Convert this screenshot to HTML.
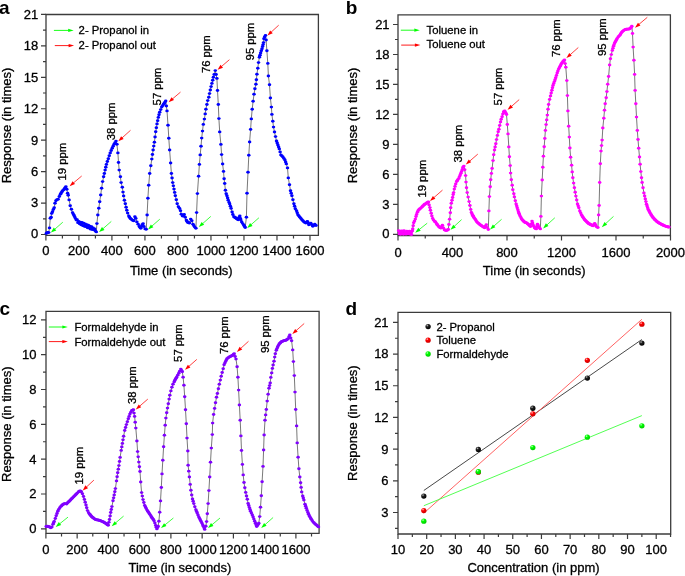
<!DOCTYPE html>
<html><head><meta charset="utf-8"><style>
html,body{margin:0;padding:0;background:#fff;}
svg{display:block;will-change:transform;font-family:"Liberation Sans",sans-serif;}
text{stroke:#000;stroke-width:0.3px;}
.nb text{stroke:none;}
</style></head><body>
<svg width="685" height="576" viewBox="0 0 685 576">
<defs>
<radialGradient id="gk" cx="0.35" cy="0.3" r="0.7"><stop offset="0" stop-color="#bbb"/><stop offset="0.35" stop-color="#222"/><stop offset="1" stop-color="#000"/></radialGradient>
<radialGradient id="gr" cx="0.35" cy="0.3" r="0.7"><stop offset="0" stop-color="#fcc"/><stop offset="0.35" stop-color="#f00"/><stop offset="1" stop-color="#c00"/></radialGradient>
<radialGradient id="ggr" cx="0.35" cy="0.3" r="0.7"><stop offset="0" stop-color="#cfc"/><stop offset="0.35" stop-color="#0f0"/><stop offset="1" stop-color="#0c0"/></radialGradient>
</defs>
<rect width="685" height="576" fill="#fff"/>
<g font-size="13">
<path d="M46,14.5H318.4V235.4H46Z" fill="none" stroke="#3c3c3c" stroke-width="1.3"/>
<path d="M45.9,235.4v5M78.91,235.4v5M111.92,235.4v5M144.94,235.4v5M177.95,235.4v5M210.96,235.4v5M243.97,235.4v5M276.98,235.4v5M310,235.4v5M62.41,235.4v3M95.42,235.4v3M128.43,235.4v3M161.44,235.4v3M194.45,235.4v3M227.47,235.4v3M260.48,235.4v3M293.49,235.4v3M46,234.5h-5M46,203.06h-5M46,171.62h-5M46,140.18h-5M46,108.74h-5M46,77.3h-5M46,45.86h-5M46,14.42h-5M46,218.78h-3M46,187.34h-3M46,155.9h-3M46,124.46h-3M46,93.02h-3M46,61.58h-3M46,30.14h-3" fill="none" stroke="#3c3c3c" stroke-width="1.2"/>
<text x="45.9" y="255" text-anchor="middle">0</text>
<text x="78.91" y="255" text-anchor="middle">200</text>
<text x="111.92" y="255" text-anchor="middle">400</text>
<text x="144.94" y="255" text-anchor="middle">600</text>
<text x="177.95" y="255" text-anchor="middle">800</text>
<text x="210.96" y="255" text-anchor="middle">1000</text>
<text x="243.97" y="255" text-anchor="middle">1200</text>
<text x="276.98" y="255" text-anchor="middle">1400</text>
<text x="310" y="255" text-anchor="middle">1600</text>
<text x="38.3" y="237.7" text-anchor="end">0</text>
<text x="38.3" y="207.46" text-anchor="end">3</text>
<text x="38.3" y="176.02" text-anchor="end">6</text>
<text x="38.3" y="144.58" text-anchor="end">9</text>
<text x="38.3" y="113.14" text-anchor="end">12</text>
<text x="38.3" y="81.7" text-anchor="end">15</text>
<text x="38.3" y="50.26" text-anchor="end">18</text>
<text x="38.3" y="18.82" text-anchor="end">21</text>
<path d="M398,14.8H670.4V235.5H398Z" fill="none" stroke="#3c3c3c" stroke-width="1.3"/>
<path d="M398,235.5v5M452.5,235.5v5M507,235.5v5M561.5,235.5v5M616,235.5v5M670.5,235.5v5M425.25,235.5v3M479.75,235.5v3M534.25,235.5v3M588.75,235.5v3M643.25,235.5v3M398,234.3h-5M398,204.33h-5M398,174.36h-5M398,144.39h-5M398,114.42h-5M398,84.45h-5M398,54.48h-5M398,24.51h-5M398,219.31h-3M398,189.35h-3M398,159.38h-3M398,129.41h-3M398,99.44h-3M398,69.47h-3M398,39.5h-3" fill="none" stroke="#3c3c3c" stroke-width="1.2"/>
<text x="398" y="256.8" text-anchor="middle">0</text>
<text x="452.5" y="256.8" text-anchor="middle">400</text>
<text x="507" y="256.8" text-anchor="middle">800</text>
<text x="561.5" y="256.8" text-anchor="middle">1200</text>
<text x="616" y="256.8" text-anchor="middle">1600</text>
<text x="670.5" y="256.8" text-anchor="middle">2000</text>
<text x="389.6" y="237.6" text-anchor="end">0</text>
<text x="389.6" y="208.73" text-anchor="end">3</text>
<text x="389.6" y="178.76" text-anchor="end">6</text>
<text x="389.6" y="148.79" text-anchor="end">9</text>
<text x="389.6" y="118.82" text-anchor="end">12</text>
<text x="389.6" y="88.85" text-anchor="end">15</text>
<text x="389.6" y="58.88" text-anchor="end">18</text>
<text x="389.6" y="28.91" text-anchor="end">21</text>
<path d="M46,311.4H319.1V533.4H46Z" fill="none" stroke="#3c3c3c" stroke-width="1.3"/>
<path d="M45.9,533.4v5M77.15,533.4v5M108.4,533.4v5M139.65,533.4v5M170.9,533.4v5M202.15,533.4v5M233.4,533.4v5M264.65,533.4v5M295.9,533.4v5M61.52,533.4v3M92.78,533.4v3M124.03,533.4v3M155.28,533.4v3M186.53,533.4v3M217.78,533.4v3M249.03,533.4v3M280.27,533.4v3M311.52,533.4v3M46,528.8h-5M46,493.98h-5M46,459.16h-5M46,424.34h-5M46,389.52h-5M46,354.7h-5M46,319.88h-5M46,511.39h-3M46,476.57h-3M46,441.75h-3M46,406.93h-3M46,372.11h-3M46,337.29h-3" fill="none" stroke="#3c3c3c" stroke-width="1.2"/>
<text x="45.9" y="554.3" text-anchor="middle">0</text>
<text x="77.15" y="554.3" text-anchor="middle">200</text>
<text x="108.4" y="554.3" text-anchor="middle">400</text>
<text x="139.65" y="554.3" text-anchor="middle">600</text>
<text x="170.9" y="554.3" text-anchor="middle">800</text>
<text x="202.15" y="554.3" text-anchor="middle">1000</text>
<text x="233.4" y="554.3" text-anchor="middle">1200</text>
<text x="264.65" y="554.3" text-anchor="middle">1400</text>
<text x="295.9" y="554.3" text-anchor="middle">1600</text>
<text x="36.4" y="532.7" text-anchor="end">0</text>
<text x="36.4" y="498.38" text-anchor="end">2</text>
<text x="36.4" y="463.56" text-anchor="end">4</text>
<text x="36.4" y="428.74" text-anchor="end">6</text>
<text x="36.4" y="393.92" text-anchor="end">8</text>
<text x="36.4" y="359.1" text-anchor="end">10</text>
<text x="36.4" y="324.28" text-anchor="end">12</text>
<path d="M398,312.3H670.7V534H398Z" fill="none" stroke="#3c3c3c" stroke-width="1.3"/>
<path d="M398,534v5M426.69,534v5M455.38,534v5M484.07,534v5M512.76,534v5M541.45,534v5M570.14,534v5M598.83,534v5M627.52,534v5M656.21,534v5M412.35,534v3M441.04,534v3M469.73,534v3M498.42,534v3M527.11,534v3M555.8,534v3M584.49,534v3M613.17,534v3M641.87,534v3M670.56,534v3M398,512.48h-5M398,480.8h-5M398,449.12h-5M398,417.44h-5M398,385.76h-5M398,354.08h-5M398,322.4h-5M398,528.32h-3M398,496.64h-3M398,464.96h-3M398,433.28h-3M398,401.6h-3M398,369.92h-3M398,338.24h-3" fill="none" stroke="#3c3c3c" stroke-width="1.2"/>
<text x="398" y="554.3" text-anchor="middle">10</text>
<text x="426.69" y="554.3" text-anchor="middle">20</text>
<text x="455.38" y="554.3" text-anchor="middle">30</text>
<text x="484.07" y="554.3" text-anchor="middle">40</text>
<text x="512.76" y="554.3" text-anchor="middle">50</text>
<text x="541.45" y="554.3" text-anchor="middle">60</text>
<text x="570.14" y="554.3" text-anchor="middle">70</text>
<text x="598.83" y="554.3" text-anchor="middle">80</text>
<text x="627.52" y="554.3" text-anchor="middle">90</text>
<text x="656.21" y="554.3" text-anchor="middle">100</text>
<text x="388.6" y="516.88" text-anchor="end">3</text>
<text x="388.6" y="485.2" text-anchor="end">6</text>
<text x="388.6" y="453.52" text-anchor="end">9</text>
<text x="388.6" y="421.84" text-anchor="end">12</text>
<text x="388.6" y="390.16" text-anchor="end">15</text>
<text x="388.6" y="358.48" text-anchor="end">18</text>
<text x="388.6" y="326.8" text-anchor="end">21</text>
<text x="181.3" y="274.7" text-anchor="middle">Time (in seconds)</text>
<text x="534.2" y="274.6" text-anchor="middle">Time (in seconds)</text>
<text x="179.9" y="572.3" text-anchor="middle">Time (in seconds)</text>
<text x="533.5" y="572.2" text-anchor="middle">Concentration (in ppm)</text>
<text transform="translate(11,183.3) rotate(-90)">Response (in times)</text>
<text transform="translate(357.2,183.3) rotate(-90)">Response (in times)</text>
<text transform="translate(11,482) rotate(-90)">Response (in times)</text>
<text transform="translate(357.2,480.9) rotate(-90)">Response (in times)</text>
</g>
<path d="M46.3,233.4 47.1,232.6 47.9,232.4 48.7,232.6 49.5,227.9 50.3,218.2 51.1,217.2 51.7,213.4 52.5,211.7 53.3,209.5 54.2,207.8 55,203.2 55.9,200.8 57,199.6 58.1,199.3 59.3,196.5 60.4,194.2 61.13,193.07 61.87,191.93 62.6,190.8 63.8,189.7 64.5,188.7 65.2,187.7 65.9,186.7 66.8,189.3 67.6,193.2 68.2,195.2 69.1,199.9 70.2,205.8 71.4,209.3 72.6,212.8 73.5,214.5 74.15,215.8 74.8,217.1 75.55,218.6 76.3,220.1 77.1,219.63 77.9,222.66 78.7,221.43 79.5,223.83 80.3,222.16 81.1,224.79 81.9,222.5 82.7,225.6 83.5,223.17 84.3,226.22 85.1,223.87 85.9,226.63 86.7,224.8 87.5,227.82 88.3,225.16 89.1,227.94 89.9,226.16 90.7,229.17 91.5,226.82 92.3,229.43 93.1,227.84 93.9,229.85 94.7,228.9 95.4,231 96.3,231.9 96.9,223.6 97.8,215 98.8,208.3 99.7,201.7 100.7,195 101.6,188.3 102.6,181.6 103.6,176.8 104.35,173.45 105.1,170.1 105.75,167.25 106.4,164.4 107.35,161.55 108.3,158.7 109.25,155.8 110.2,152.9 111.2,150.55 112.2,148.2 113.15,146.25 114.1,144.3 115.05,142.7 116,141.1 116.9,144.3 117.9,152.9 118.5,162.5 119.2,170.1 120.4,176.8 121.1,182.6 122.3,187.3 123,192.1 123.6,195.9 124.4,200.3 125.3,203.8 126.1,207.3 126.8,210.2 127.6,213.1 128.8,216 129.55,217.2 130.3,218.4 131.3,219.25 132.3,220.1 133.05,220.4 133.8,220.7 134.9,216.8 135.8,218.4 136.9,221.9 138.1,224.2 139.3,226.5 140.05,227.4 140.8,228.3 141.5,226.55 142.2,224.8 143.1,223.8 143.9,226.5 145.1,228.9 146.2,229.2 147.1,215 147.9,198.3 148.7,185.2 149.7,173.5 150.8,165.7 151.8,159.1 152.45,154.55 153.1,150 153.75,146.1 154.4,142.2 155.05,136.95 155.7,131.7 156.35,127.8 157,123.9 157.65,120.65 158.3,117.4 159,114.8 159.7,112.2 160.7,109.6 161.7,107 162.65,105.65 163.6,104.3 164.3,103.2 165,102.1 165.7,101 166.35,105.95 167,110.9 168,125.2 168.8,138.3 169.6,150 170.6,163 171.4,173.5 172.05,178.05 172.7,182.6 173.35,185.85 174,189.1 174.65,192.4 175.3,195.7 176.3,199.7 177.2,203.8 178.4,206.7 179.6,208.4 180.5,210.8 181.3,214.3 182.5,216 183.4,215.6 184.2,214.5 185.2,217.2 186.3,220.1 187,221.25 187.7,222.4 188.6,222.7 189.5,223 190.7,219.1 191.8,220.7 193,224.2 193.85,225.65 194.7,227.1 195.9,228.3 196.6,212.6 197.4,193.6 198.6,176.3 199.4,164.4 200.2,154.9 201,146.3 201.7,138.1 202.5,131.1 203.3,124.4 204.4,119.1 205.2,113.9 205.9,109.2 206.9,104.5 207.7,100.6 208.8,97.2 209.5,93.6 210.3,90 211.1,86.6 211.9,83.4 212.7,80.3 213.4,77.2 214.2,74.4 215.3,70.6 216.1,74.5 216.9,78.4 217.5,90.5 218.3,104.5 218.9,118.6 219.7,131.9 220.9,144.4 221.6,154.6 222.6,164 223.5,171.4 224.1,178.8 224.7,183.5 225.4,190.2 226.2,193.7 226.9,195.8 227.6,198 228.2,200.2 229.1,202.4 229.7,204.1 230.4,206.3 231.1,208.4 232.1,211.9 232.8,214.5 233.9,216.7 234.65,217.25 235.4,217.8 236.15,218.3 236.9,218.8 237.55,219.25 238.2,219.7 239.1,217.5 239.8,215.9 240.4,218.4 240.8,220.1 241.7,221.9 242.7,223.6 243.9,225.3 244.55,226.4 245.2,227.5 246.4,217.2 247,193.2 248,172.3 248.8,155.3 249.6,142 250.6,129.4 251.3,118.9 252.2,109.3 253.1,101.2 254,94.3 254.9,88.8 255.9,84.3 256.4,79.7 256.9,74.3 257.8,68.2 258.5,62.6 259.4,57.3 260,55.2 260.6,53 261.3,50.8 262,48.7 262.6,46.5 263.1,44.6 263.5,42.6 263.9,38.7 264.6,37 265.5,35.4 266.1,40 266.9,50.8 267.8,63.4 268.4,76 269.5,84.8 270.4,98 271.4,107.1 271.9,114.4 272.8,121.3 273.5,127.1 274.5,132 275.5,136.6 276.5,141 277.2,143 277.9,145 278.6,146.95 279.3,148.9 280.1,151.9 280.9,154.9 281.9,155.9 282.9,156.9 283.9,158.4 284.9,159.9 285.6,161.9 286.3,163.9 287.5,167.9 288.3,177.9 289.5,184.8 290.5,190.8 291.2,193.3 291.9,195.8 292.9,199.8 293.9,203.8 294.6,206.3 295.3,208.8 296.5,210.8 297.2,212.8 297.9,214.8 298.9,216 299.9,217.2 300.9,218.5 301.9,219.8 302.85,220.75 303.8,221.7 304.8,222.4 305.8,223.1 306.6,222.25 307.4,221.4 308.1,223.05 308.8,224.7 309.8,223.95 310.8,223.2 311.8,224.7 312.8,226.2 313.8,225.2 314.8,224.2 316,225.5" fill="none" stroke="#555" stroke-width="0.8"/>
<g fill="#0000ff"><ellipse cx="46.3" cy="233.4" rx="1.75" ry="1.45"/><ellipse cx="47.1" cy="232.6" rx="1.75" ry="1.45"/><ellipse cx="47.9" cy="232.4" rx="1.75" ry="1.45"/><ellipse cx="48.7" cy="232.6" rx="1.75" ry="1.45"/><ellipse cx="49.5" cy="227.9" rx="1.75" ry="1.45"/><ellipse cx="50.3" cy="218.2" rx="1.75" ry="1.45"/><ellipse cx="51.1" cy="217.2" rx="1.75" ry="1.45"/><ellipse cx="51.7" cy="213.4" rx="1.75" ry="1.45"/><ellipse cx="52.5" cy="211.7" rx="1.75" ry="1.45"/><ellipse cx="53.3" cy="209.5" rx="1.75" ry="1.45"/><ellipse cx="54.2" cy="207.8" rx="1.75" ry="1.45"/><ellipse cx="55" cy="203.2" rx="1.75" ry="1.45"/><ellipse cx="55.9" cy="200.8" rx="1.75" ry="1.45"/><ellipse cx="57" cy="199.6" rx="1.75" ry="1.45"/><ellipse cx="58.1" cy="199.3" rx="1.75" ry="1.45"/><ellipse cx="59.3" cy="196.5" rx="1.75" ry="1.45"/><ellipse cx="60.4" cy="194.2" rx="1.75" ry="1.45"/><ellipse cx="61.13" cy="193.07" rx="1.75" ry="1.45"/><ellipse cx="61.87" cy="191.93" rx="1.75" ry="1.45"/><ellipse cx="62.6" cy="190.8" rx="1.75" ry="1.45"/><ellipse cx="63.8" cy="189.7" rx="1.75" ry="1.45"/><ellipse cx="64.5" cy="188.7" rx="1.75" ry="1.45"/><ellipse cx="65.2" cy="187.7" rx="1.75" ry="1.45"/><ellipse cx="65.9" cy="186.7" rx="1.75" ry="1.45"/><ellipse cx="66.8" cy="189.3" rx="1.75" ry="1.45"/><ellipse cx="67.6" cy="193.2" rx="1.75" ry="1.45"/><ellipse cx="68.2" cy="195.2" rx="1.75" ry="1.45"/><ellipse cx="69.1" cy="199.9" rx="1.75" ry="1.45"/><ellipse cx="70.2" cy="205.8" rx="1.75" ry="1.45"/><ellipse cx="71.4" cy="209.3" rx="1.75" ry="1.45"/><ellipse cx="72.6" cy="212.8" rx="1.75" ry="1.45"/><ellipse cx="73.5" cy="214.5" rx="1.75" ry="1.45"/><ellipse cx="74.15" cy="215.8" rx="1.75" ry="1.45"/><ellipse cx="74.8" cy="217.1" rx="1.75" ry="1.45"/><ellipse cx="75.55" cy="218.6" rx="1.75" ry="1.45"/><ellipse cx="76.3" cy="220.1" rx="1.75" ry="1.45"/><ellipse cx="77.1" cy="219.63" rx="1.75" ry="1.45"/><ellipse cx="77.9" cy="222.66" rx="1.75" ry="1.45"/><ellipse cx="78.7" cy="221.43" rx="1.75" ry="1.45"/><ellipse cx="79.5" cy="223.83" rx="1.75" ry="1.45"/><ellipse cx="80.3" cy="222.16" rx="1.75" ry="1.45"/><ellipse cx="81.1" cy="224.79" rx="1.75" ry="1.45"/><ellipse cx="81.9" cy="222.5" rx="1.75" ry="1.45"/><ellipse cx="82.7" cy="225.6" rx="1.75" ry="1.45"/><ellipse cx="83.5" cy="223.17" rx="1.75" ry="1.45"/><ellipse cx="84.3" cy="226.22" rx="1.75" ry="1.45"/><ellipse cx="85.1" cy="223.87" rx="1.75" ry="1.45"/><ellipse cx="85.9" cy="226.63" rx="1.75" ry="1.45"/><ellipse cx="86.7" cy="224.8" rx="1.75" ry="1.45"/><ellipse cx="87.5" cy="227.82" rx="1.75" ry="1.45"/><ellipse cx="88.3" cy="225.16" rx="1.75" ry="1.45"/><ellipse cx="89.1" cy="227.94" rx="1.75" ry="1.45"/><ellipse cx="89.9" cy="226.16" rx="1.75" ry="1.45"/><ellipse cx="90.7" cy="229.17" rx="1.75" ry="1.45"/><ellipse cx="91.5" cy="226.82" rx="1.75" ry="1.45"/><ellipse cx="92.3" cy="229.43" rx="1.75" ry="1.45"/><ellipse cx="93.1" cy="227.84" rx="1.75" ry="1.45"/><ellipse cx="93.9" cy="229.85" rx="1.75" ry="1.45"/><ellipse cx="94.7" cy="228.9" rx="1.75" ry="1.45"/><ellipse cx="95.4" cy="231" rx="1.75" ry="1.45"/><ellipse cx="96.3" cy="231.9" rx="1.75" ry="1.45"/><ellipse cx="96.9" cy="223.6" rx="1.75" ry="1.45"/><ellipse cx="97.8" cy="215" rx="1.75" ry="1.45"/><ellipse cx="98.8" cy="208.3" rx="1.75" ry="1.45"/><ellipse cx="99.7" cy="201.7" rx="1.75" ry="1.45"/><ellipse cx="100.7" cy="195" rx="1.75" ry="1.45"/><ellipse cx="101.6" cy="188.3" rx="1.75" ry="1.45"/><ellipse cx="102.6" cy="181.6" rx="1.75" ry="1.45"/><ellipse cx="103.6" cy="176.8" rx="1.75" ry="1.45"/><ellipse cx="104.35" cy="173.45" rx="1.75" ry="1.45"/><ellipse cx="105.1" cy="170.1" rx="1.75" ry="1.45"/><ellipse cx="105.75" cy="167.25" rx="1.75" ry="1.45"/><ellipse cx="106.4" cy="164.4" rx="1.75" ry="1.45"/><ellipse cx="107.35" cy="161.55" rx="1.75" ry="1.45"/><ellipse cx="108.3" cy="158.7" rx="1.75" ry="1.45"/><ellipse cx="109.25" cy="155.8" rx="1.75" ry="1.45"/><ellipse cx="110.2" cy="152.9" rx="1.75" ry="1.45"/><ellipse cx="111.2" cy="150.55" rx="1.75" ry="1.45"/><ellipse cx="112.2" cy="148.2" rx="1.75" ry="1.45"/><ellipse cx="113.15" cy="146.25" rx="1.75" ry="1.45"/><ellipse cx="114.1" cy="144.3" rx="1.75" ry="1.45"/><ellipse cx="115.05" cy="142.7" rx="1.75" ry="1.45"/><ellipse cx="116" cy="141.1" rx="1.75" ry="1.45"/><ellipse cx="116.9" cy="144.3" rx="1.75" ry="1.45"/><ellipse cx="117.9" cy="152.9" rx="1.75" ry="1.45"/><ellipse cx="118.5" cy="162.5" rx="1.75" ry="1.45"/><ellipse cx="119.2" cy="170.1" rx="1.75" ry="1.45"/><ellipse cx="120.4" cy="176.8" rx="1.75" ry="1.45"/><ellipse cx="121.1" cy="182.6" rx="1.75" ry="1.45"/><ellipse cx="122.3" cy="187.3" rx="1.75" ry="1.45"/><ellipse cx="123" cy="192.1" rx="1.75" ry="1.45"/><ellipse cx="123.6" cy="195.9" rx="1.75" ry="1.45"/><ellipse cx="124.4" cy="200.3" rx="1.75" ry="1.45"/><ellipse cx="125.3" cy="203.8" rx="1.75" ry="1.45"/><ellipse cx="126.1" cy="207.3" rx="1.75" ry="1.45"/><ellipse cx="126.8" cy="210.2" rx="1.75" ry="1.45"/><ellipse cx="127.6" cy="213.1" rx="1.75" ry="1.45"/><ellipse cx="128.8" cy="216" rx="1.75" ry="1.45"/><ellipse cx="129.55" cy="217.2" rx="1.75" ry="1.45"/><ellipse cx="130.3" cy="218.4" rx="1.75" ry="1.45"/><ellipse cx="131.3" cy="219.25" rx="1.75" ry="1.45"/><ellipse cx="132.3" cy="220.1" rx="1.75" ry="1.45"/><ellipse cx="133.05" cy="220.4" rx="1.75" ry="1.45"/><ellipse cx="133.8" cy="220.7" rx="1.75" ry="1.45"/><ellipse cx="134.9" cy="216.8" rx="1.75" ry="1.45"/><ellipse cx="135.8" cy="218.4" rx="1.75" ry="1.45"/><ellipse cx="136.9" cy="221.9" rx="1.75" ry="1.45"/><ellipse cx="138.1" cy="224.2" rx="1.75" ry="1.45"/><ellipse cx="139.3" cy="226.5" rx="1.75" ry="1.45"/><ellipse cx="140.05" cy="227.4" rx="1.75" ry="1.45"/><ellipse cx="140.8" cy="228.3" rx="1.75" ry="1.45"/><ellipse cx="141.5" cy="226.55" rx="1.75" ry="1.45"/><ellipse cx="142.2" cy="224.8" rx="1.75" ry="1.45"/><ellipse cx="143.1" cy="223.8" rx="1.75" ry="1.45"/><ellipse cx="143.9" cy="226.5" rx="1.75" ry="1.45"/><ellipse cx="145.1" cy="228.9" rx="1.75" ry="1.45"/><ellipse cx="146.2" cy="229.2" rx="1.75" ry="1.45"/><ellipse cx="147.1" cy="215" rx="1.75" ry="1.45"/><ellipse cx="147.9" cy="198.3" rx="1.75" ry="1.45"/><ellipse cx="148.7" cy="185.2" rx="1.75" ry="1.45"/><ellipse cx="149.7" cy="173.5" rx="1.75" ry="1.45"/><ellipse cx="150.8" cy="165.7" rx="1.75" ry="1.45"/><ellipse cx="151.8" cy="159.1" rx="1.75" ry="1.45"/><ellipse cx="152.45" cy="154.55" rx="1.75" ry="1.45"/><ellipse cx="153.1" cy="150" rx="1.75" ry="1.45"/><ellipse cx="153.75" cy="146.1" rx="1.75" ry="1.45"/><ellipse cx="154.4" cy="142.2" rx="1.75" ry="1.45"/><ellipse cx="155.05" cy="136.95" rx="1.75" ry="1.45"/><ellipse cx="155.7" cy="131.7" rx="1.75" ry="1.45"/><ellipse cx="156.35" cy="127.8" rx="1.75" ry="1.45"/><ellipse cx="157" cy="123.9" rx="1.75" ry="1.45"/><ellipse cx="157.65" cy="120.65" rx="1.75" ry="1.45"/><ellipse cx="158.3" cy="117.4" rx="1.75" ry="1.45"/><ellipse cx="159" cy="114.8" rx="1.75" ry="1.45"/><ellipse cx="159.7" cy="112.2" rx="1.75" ry="1.45"/><ellipse cx="160.7" cy="109.6" rx="1.75" ry="1.45"/><ellipse cx="161.7" cy="107" rx="1.75" ry="1.45"/><ellipse cx="162.65" cy="105.65" rx="1.75" ry="1.45"/><ellipse cx="163.6" cy="104.3" rx="1.75" ry="1.45"/><ellipse cx="164.3" cy="103.2" rx="1.75" ry="1.45"/><ellipse cx="165" cy="102.1" rx="1.75" ry="1.45"/><ellipse cx="165.7" cy="101" rx="1.75" ry="1.45"/><ellipse cx="166.35" cy="105.95" rx="1.75" ry="1.45"/><ellipse cx="167" cy="110.9" rx="1.75" ry="1.45"/><ellipse cx="168" cy="125.2" rx="1.75" ry="1.45"/><ellipse cx="168.8" cy="138.3" rx="1.75" ry="1.45"/><ellipse cx="169.6" cy="150" rx="1.75" ry="1.45"/><ellipse cx="170.6" cy="163" rx="1.75" ry="1.45"/><ellipse cx="171.4" cy="173.5" rx="1.75" ry="1.45"/><ellipse cx="172.05" cy="178.05" rx="1.75" ry="1.45"/><ellipse cx="172.7" cy="182.6" rx="1.75" ry="1.45"/><ellipse cx="173.35" cy="185.85" rx="1.75" ry="1.45"/><ellipse cx="174" cy="189.1" rx="1.75" ry="1.45"/><ellipse cx="174.65" cy="192.4" rx="1.75" ry="1.45"/><ellipse cx="175.3" cy="195.7" rx="1.75" ry="1.45"/><ellipse cx="176.3" cy="199.7" rx="1.75" ry="1.45"/><ellipse cx="177.2" cy="203.8" rx="1.75" ry="1.45"/><ellipse cx="178.4" cy="206.7" rx="1.75" ry="1.45"/><ellipse cx="179.6" cy="208.4" rx="1.75" ry="1.45"/><ellipse cx="180.5" cy="210.8" rx="1.75" ry="1.45"/><ellipse cx="181.3" cy="214.3" rx="1.75" ry="1.45"/><ellipse cx="182.5" cy="216" rx="1.75" ry="1.45"/><ellipse cx="183.4" cy="215.6" rx="1.75" ry="1.45"/><ellipse cx="184.2" cy="214.5" rx="1.75" ry="1.45"/><ellipse cx="185.2" cy="217.2" rx="1.75" ry="1.45"/><ellipse cx="186.3" cy="220.1" rx="1.75" ry="1.45"/><ellipse cx="187" cy="221.25" rx="1.75" ry="1.45"/><ellipse cx="187.7" cy="222.4" rx="1.75" ry="1.45"/><ellipse cx="188.6" cy="222.7" rx="1.75" ry="1.45"/><ellipse cx="189.5" cy="223" rx="1.75" ry="1.45"/><ellipse cx="190.7" cy="219.1" rx="1.75" ry="1.45"/><ellipse cx="191.8" cy="220.7" rx="1.75" ry="1.45"/><ellipse cx="193" cy="224.2" rx="1.75" ry="1.45"/><ellipse cx="193.85" cy="225.65" rx="1.75" ry="1.45"/><ellipse cx="194.7" cy="227.1" rx="1.75" ry="1.45"/><ellipse cx="195.9" cy="228.3" rx="1.75" ry="1.45"/><ellipse cx="196.6" cy="212.6" rx="1.75" ry="1.45"/><ellipse cx="197.4" cy="193.6" rx="1.75" ry="1.45"/><ellipse cx="198.6" cy="176.3" rx="1.75" ry="1.45"/><ellipse cx="199.4" cy="164.4" rx="1.75" ry="1.45"/><ellipse cx="200.2" cy="154.9" rx="1.75" ry="1.45"/><ellipse cx="201" cy="146.3" rx="1.75" ry="1.45"/><ellipse cx="201.7" cy="138.1" rx="1.75" ry="1.45"/><ellipse cx="202.5" cy="131.1" rx="1.75" ry="1.45"/><ellipse cx="203.3" cy="124.4" rx="1.75" ry="1.45"/><ellipse cx="204.4" cy="119.1" rx="1.75" ry="1.45"/><ellipse cx="205.2" cy="113.9" rx="1.75" ry="1.45"/><ellipse cx="205.9" cy="109.2" rx="1.75" ry="1.45"/><ellipse cx="206.9" cy="104.5" rx="1.75" ry="1.45"/><ellipse cx="207.7" cy="100.6" rx="1.75" ry="1.45"/><ellipse cx="208.8" cy="97.2" rx="1.75" ry="1.45"/><ellipse cx="209.5" cy="93.6" rx="1.75" ry="1.45"/><ellipse cx="210.3" cy="90" rx="1.75" ry="1.45"/><ellipse cx="211.1" cy="86.6" rx="1.75" ry="1.45"/><ellipse cx="211.9" cy="83.4" rx="1.75" ry="1.45"/><ellipse cx="212.7" cy="80.3" rx="1.75" ry="1.45"/><ellipse cx="213.4" cy="77.2" rx="1.75" ry="1.45"/><ellipse cx="214.2" cy="74.4" rx="1.75" ry="1.45"/><ellipse cx="215.3" cy="70.6" rx="1.75" ry="1.45"/><ellipse cx="216.1" cy="74.5" rx="1.75" ry="1.45"/><ellipse cx="216.9" cy="78.4" rx="1.75" ry="1.45"/><ellipse cx="217.5" cy="90.5" rx="1.75" ry="1.45"/><ellipse cx="218.3" cy="104.5" rx="1.75" ry="1.45"/><ellipse cx="218.9" cy="118.6" rx="1.75" ry="1.45"/><ellipse cx="219.7" cy="131.9" rx="1.75" ry="1.45"/><ellipse cx="220.9" cy="144.4" rx="1.75" ry="1.45"/><ellipse cx="221.6" cy="154.6" rx="1.75" ry="1.45"/><ellipse cx="222.6" cy="164" rx="1.75" ry="1.45"/><ellipse cx="223.5" cy="171.4" rx="1.75" ry="1.45"/><ellipse cx="224.1" cy="178.8" rx="1.75" ry="1.45"/><ellipse cx="224.7" cy="183.5" rx="1.75" ry="1.45"/><ellipse cx="225.4" cy="190.2" rx="1.75" ry="1.45"/><ellipse cx="226.2" cy="193.7" rx="1.75" ry="1.45"/><ellipse cx="226.9" cy="195.8" rx="1.75" ry="1.45"/><ellipse cx="227.6" cy="198" rx="1.75" ry="1.45"/><ellipse cx="228.2" cy="200.2" rx="1.75" ry="1.45"/><ellipse cx="229.1" cy="202.4" rx="1.75" ry="1.45"/><ellipse cx="229.7" cy="204.1" rx="1.75" ry="1.45"/><ellipse cx="230.4" cy="206.3" rx="1.75" ry="1.45"/><ellipse cx="231.1" cy="208.4" rx="1.75" ry="1.45"/><ellipse cx="232.1" cy="211.9" rx="1.75" ry="1.45"/><ellipse cx="232.8" cy="214.5" rx="1.75" ry="1.45"/><ellipse cx="233.9" cy="216.7" rx="1.75" ry="1.45"/><ellipse cx="234.65" cy="217.25" rx="1.75" ry="1.45"/><ellipse cx="235.4" cy="217.8" rx="1.75" ry="1.45"/><ellipse cx="236.15" cy="218.3" rx="1.75" ry="1.45"/><ellipse cx="236.9" cy="218.8" rx="1.75" ry="1.45"/><ellipse cx="237.55" cy="219.25" rx="1.75" ry="1.45"/><ellipse cx="238.2" cy="219.7" rx="1.75" ry="1.45"/><ellipse cx="239.1" cy="217.5" rx="1.75" ry="1.45"/><ellipse cx="239.8" cy="215.9" rx="1.75" ry="1.45"/><ellipse cx="240.4" cy="218.4" rx="1.75" ry="1.45"/><ellipse cx="240.8" cy="220.1" rx="1.75" ry="1.45"/><ellipse cx="241.7" cy="221.9" rx="1.75" ry="1.45"/><ellipse cx="242.7" cy="223.6" rx="1.75" ry="1.45"/><ellipse cx="243.9" cy="225.3" rx="1.75" ry="1.45"/><ellipse cx="244.55" cy="226.4" rx="1.75" ry="1.45"/><ellipse cx="245.2" cy="227.5" rx="1.75" ry="1.45"/><ellipse cx="246.4" cy="217.2" rx="1.75" ry="1.45"/><ellipse cx="247" cy="193.2" rx="1.75" ry="1.45"/><ellipse cx="248" cy="172.3" rx="1.75" ry="1.45"/><ellipse cx="248.8" cy="155.3" rx="1.75" ry="1.45"/><ellipse cx="249.6" cy="142" rx="1.75" ry="1.45"/><ellipse cx="250.6" cy="129.4" rx="1.75" ry="1.45"/><ellipse cx="251.3" cy="118.9" rx="1.75" ry="1.45"/><ellipse cx="252.2" cy="109.3" rx="1.75" ry="1.45"/><ellipse cx="253.1" cy="101.2" rx="1.75" ry="1.45"/><ellipse cx="254" cy="94.3" rx="1.75" ry="1.45"/><ellipse cx="254.9" cy="88.8" rx="1.75" ry="1.45"/><ellipse cx="255.9" cy="84.3" rx="1.75" ry="1.45"/><ellipse cx="256.4" cy="79.7" rx="1.75" ry="1.45"/><ellipse cx="256.9" cy="74.3" rx="1.75" ry="1.45"/><ellipse cx="257.8" cy="68.2" rx="1.75" ry="1.45"/><ellipse cx="258.5" cy="62.6" rx="1.75" ry="1.45"/><ellipse cx="259.4" cy="57.3" rx="1.75" ry="1.45"/><ellipse cx="260" cy="55.2" rx="1.75" ry="1.45"/><ellipse cx="260.6" cy="53" rx="1.75" ry="1.45"/><ellipse cx="261.3" cy="50.8" rx="1.75" ry="1.45"/><ellipse cx="262" cy="48.7" rx="1.75" ry="1.45"/><ellipse cx="262.6" cy="46.5" rx="1.75" ry="1.45"/><ellipse cx="263.1" cy="44.6" rx="1.75" ry="1.45"/><ellipse cx="263.5" cy="42.6" rx="1.75" ry="1.45"/><ellipse cx="263.9" cy="38.7" rx="1.75" ry="1.45"/><ellipse cx="264.6" cy="37" rx="1.75" ry="1.45"/><ellipse cx="265.5" cy="35.4" rx="1.75" ry="1.45"/><ellipse cx="266.1" cy="40" rx="1.75" ry="1.45"/><ellipse cx="266.9" cy="50.8" rx="1.75" ry="1.45"/><ellipse cx="267.8" cy="63.4" rx="1.75" ry="1.45"/><ellipse cx="268.4" cy="76" rx="1.75" ry="1.45"/><ellipse cx="269.5" cy="84.8" rx="1.75" ry="1.45"/><ellipse cx="270.4" cy="98" rx="1.75" ry="1.45"/><ellipse cx="271.4" cy="107.1" rx="1.75" ry="1.45"/><ellipse cx="271.9" cy="114.4" rx="1.75" ry="1.45"/><ellipse cx="272.8" cy="121.3" rx="1.75" ry="1.45"/><ellipse cx="273.5" cy="127.1" rx="1.75" ry="1.45"/><ellipse cx="274.5" cy="132" rx="1.75" ry="1.45"/><ellipse cx="275.5" cy="136.6" rx="1.75" ry="1.45"/><ellipse cx="276.5" cy="141" rx="1.75" ry="1.45"/><ellipse cx="277.2" cy="143" rx="1.75" ry="1.45"/><ellipse cx="277.9" cy="145" rx="1.75" ry="1.45"/><ellipse cx="278.6" cy="146.95" rx="1.75" ry="1.45"/><ellipse cx="279.3" cy="148.9" rx="1.75" ry="1.45"/><ellipse cx="280.1" cy="151.9" rx="1.75" ry="1.45"/><ellipse cx="280.9" cy="154.9" rx="1.75" ry="1.45"/><ellipse cx="281.9" cy="155.9" rx="1.75" ry="1.45"/><ellipse cx="282.9" cy="156.9" rx="1.75" ry="1.45"/><ellipse cx="283.9" cy="158.4" rx="1.75" ry="1.45"/><ellipse cx="284.9" cy="159.9" rx="1.75" ry="1.45"/><ellipse cx="285.6" cy="161.9" rx="1.75" ry="1.45"/><ellipse cx="286.3" cy="163.9" rx="1.75" ry="1.45"/><ellipse cx="287.5" cy="167.9" rx="1.75" ry="1.45"/><ellipse cx="288.3" cy="177.9" rx="1.75" ry="1.45"/><ellipse cx="289.5" cy="184.8" rx="1.75" ry="1.45"/><ellipse cx="290.5" cy="190.8" rx="1.75" ry="1.45"/><ellipse cx="291.2" cy="193.3" rx="1.75" ry="1.45"/><ellipse cx="291.9" cy="195.8" rx="1.75" ry="1.45"/><ellipse cx="292.9" cy="199.8" rx="1.75" ry="1.45"/><ellipse cx="293.9" cy="203.8" rx="1.75" ry="1.45"/><ellipse cx="294.6" cy="206.3" rx="1.75" ry="1.45"/><ellipse cx="295.3" cy="208.8" rx="1.75" ry="1.45"/><ellipse cx="296.5" cy="210.8" rx="1.75" ry="1.45"/><ellipse cx="297.2" cy="212.8" rx="1.75" ry="1.45"/><ellipse cx="297.9" cy="214.8" rx="1.75" ry="1.45"/><ellipse cx="298.9" cy="216" rx="1.75" ry="1.45"/><ellipse cx="299.9" cy="217.2" rx="1.75" ry="1.45"/><ellipse cx="300.9" cy="218.5" rx="1.75" ry="1.45"/><ellipse cx="301.9" cy="219.8" rx="1.75" ry="1.45"/><ellipse cx="302.85" cy="220.75" rx="1.75" ry="1.45"/><ellipse cx="303.8" cy="221.7" rx="1.75" ry="1.45"/><ellipse cx="304.8" cy="222.4" rx="1.75" ry="1.45"/><ellipse cx="305.8" cy="223.1" rx="1.75" ry="1.45"/><ellipse cx="306.6" cy="222.25" rx="1.75" ry="1.45"/><ellipse cx="307.4" cy="221.4" rx="1.75" ry="1.45"/><ellipse cx="308.1" cy="223.05" rx="1.75" ry="1.45"/><ellipse cx="308.8" cy="224.7" rx="1.75" ry="1.45"/><ellipse cx="309.8" cy="223.95" rx="1.75" ry="1.45"/><ellipse cx="310.8" cy="223.2" rx="1.75" ry="1.45"/><ellipse cx="311.8" cy="224.7" rx="1.75" ry="1.45"/><ellipse cx="312.8" cy="226.2" rx="1.75" ry="1.45"/><ellipse cx="313.8" cy="225.2" rx="1.75" ry="1.45"/><ellipse cx="314.8" cy="224.2" rx="1.75" ry="1.45"/><ellipse cx="316" cy="225.5" rx="1.75" ry="1.45"/></g>
<path d="M398.6,230.74 399.28,233.84 399.96,232.07 400.64,234.3 401.32,230.93 402,232.77 402.68,231.31 403.36,234.34 404.04,230.76 404.72,233.53 405.4,232.7 406.08,234.17 406.76,231.14 407.44,233.18 408.12,231.94 408.8,233.65 409.48,231.13 410.16,234.17 410.84,232.22 411.52,234.44 412.4,231 412.7,229 413.2,225.8 413.7,222.7 414.5,221.1 415.3,219.1 416,216.5 416.6,214.4 417.4,212.3 418.1,210.7 418.9,209.7 419.45,209.15 420,208.6 421,207.9 422,206.9 422.55,206.35 423.1,205.8 424.1,204.8 424.65,204.4 425.2,204 426.2,203.4 426.75,203.05 427.3,202.7 427.9,202.3 428.5,201.9 429.1,205 429.9,207.6 430.4,210.2 431.2,213.3 431.9,215.9 432.7,218.5 433.5,220.1 434.5,221.1 435.05,221.65 435.6,222.2 436.6,223.8 437.15,224.55 437.7,225.3 438.7,226.4 439.25,226.9 439.8,227.4 440.4,227.75 441,228.1 441.7,226.7 442.4,225.3 443.4,227.9 444.4,229.8 445.2,230.15 446,230.5 446.8,230.25 447.6,230 448.3,229.5 448.9,224.5 449.6,219.3 450.3,212.7 450.7,207.8 451.3,203.3 452,200.2 452.6,197.5 453.2,194.5 453.6,192.6 454.3,189.1 455,186.4 455.7,183.9 456.7,181.5 457.25,180.65 457.8,179.8 458.8,178.4 459.5,176.6 460.2,174.9 460.9,173.2 461.6,171.4 462.3,169.4 463,167.3 463.9,166.1 464.7,169.7 465.6,175.6 466,182.1 466.5,187.7 467.2,192.6 468.1,197.1 469.1,201.6 469.9,205.5 470.7,209.4 471.4,212.5 472.05,213.9 472.7,215.3 473.25,216.25 473.8,217.2 474.55,218.35 475.3,219.5 476.1,220.7 476.9,221.9 477.7,222.65 478.5,223.4 479.25,224.05 480,224.7 480.8,225.25 481.6,225.8 482.4,226.35 483.2,226.9 483.95,227.35 484.7,227.8 485.5,226.25 486.3,224.7 487.3,227.6 488.3,229.5 488.9,210.9 489.4,196.6 490.2,186.7 490.7,179.7 491.4,173.4 492.1,168.4 493,160.6 493.7,154.7 494.5,150 495.1,146.9 495.8,143.8 496.5,139.6 497.4,135.4 498.2,131.8 498.9,129.2 499.7,125.5 500.5,121.9 501.2,119.3 502.1,116.7 502.8,114.1 503.6,112 504.15,111.45 504.7,110.9 505.3,112.13 505.9,113.37 506.5,114.6 507.3,124.5 508,133.9 508.8,146.9 509.4,156.7 510.2,165.6 510.6,173.1 511.3,179.7 512.2,185.2 512.8,189.8 513.8,193.8 514.4,196.9 515.3,200.8 516.1,203.9 516.65,205.85 517.2,207.8 517.8,209.75 518.4,211.7 518.95,213.25 519.5,214.8 520.3,216.4 521.1,218 521.9,219.15 522.7,220.3 523.37,220.93 524.03,221.57 524.7,222.2 525.43,222.5 526.17,222.8 526.9,223.1 527.57,223.73 528.23,224.37 528.9,225 529.7,225.8 530.5,226.6 531.25,223.85 532,221.1 532.55,223.05 533.1,225 533.9,226.55 534.7,228.1 535.5,228.5 536.3,228.9 536.9,226.55 537.5,224.2 538.15,225.75 538.8,227.3 539.55,228.1 540.3,228.9 540.9,216.4 541.4,196.1 542.2,180 542.8,167.2 543.4,156.3 544.2,146.7 544.8,138.4 545.4,130.4 546.1,124.6 546.7,119.9 547.3,115.1 548,109.3 548.6,104.5 549.6,99.4 550.5,95.9 551.2,93.05 551.9,90.2 552.45,87.8 553,85.4 553.7,83.5 554.4,81.6 555.05,79.7 555.7,77.8 556.45,75.4 557.2,73 557.9,71.05 558.6,69.1 559.35,67.7 560.1,66.3 560.75,65.05 561.4,63.8 562.2,62.65 563,61.5 563.75,60.75 564.5,60 565.15,63.6 565.8,67.2 566.8,80.6 567.4,95.6 567.9,110.9 568.7,126.2 569.3,137.1 569.9,148 570.6,157.2 571.6,165.3 572.2,171.9 572.8,177.8 573.6,183.1 574.4,187.8 575.2,192.2 575.9,196.1 576.7,200 577.5,203.9 578.15,205.85 578.8,207.8 579.8,210.9 580.6,212.85 581.4,214.8 582.2,216 583,217.2 583.75,218.35 584.5,219.5 585.2,220.2 585.9,220.9 586.6,221.6 587.2,222.2 587.8,222.8 588.4,223.4 589,223.72 589.6,224.05 590.2,224.38 590.8,224.7 591.57,225.07 592.33,225.43 593.1,225.8 593.9,224.6 594.7,223.4 595.5,225 596.3,226.6 597.1,227.1 597.9,227.6 598.6,215 599.1,205.5 599.7,182.5 600.3,163.8 601,151.1 601.55,145.6 602.1,140.1 602.8,128 603.8,118.3 604.5,110.3 605.2,103.7 606.2,97.7 606.9,91.6 607.7,84.3 608.6,76.5 609.6,65 610.4,58.8 611.3,54.6 612.3,50.4 612.9,48.35 613.5,46.3 614.05,44.7 614.6,43.1 615.2,42.05 615.8,41 616.5,39.7 617.2,38.4 618.2,36.9 619,36.1 619.8,35.3 620.6,34 621.4,32.7 622.15,31.9 622.9,31.1 623.6,30.6 624.3,30.1 625,29.6 625.7,29.43 626.4,29.27 627.1,29.1 627.8,29.1 628.5,29.1 629.2,29.1 629.95,28.55 630.7,28 631.25,27.15 631.8,26.3 632.5,33.5 633.1,47.1 633.9,60.3 634.6,74.4 635.1,90.4 635.8,103.7 636.5,117.1 637.3,130.4 638,139.5 638.7,148.3 639.5,157 640.1,164.3 640.8,171.6 641.5,177.8 642.1,182.5 643,187.7 643.9,192.9 644.6,195.95 645.3,199 645.9,201.6 646.5,204.2 647.07,205.93 647.63,207.67 648.2,209.4 648.8,210.57 649.4,211.73 650,212.9 650.73,214.07 651.47,215.23 652.2,216.4 652.9,217.27 653.6,218.13 654.3,219 654.95,219.65 655.6,220.3 656.25,220.95 656.9,221.6 657.55,222.03 658.2,222.45 658.85,222.88 659.5,223.3 660.15,223.65 660.8,224 661.45,224.35 662.1,224.7 662.75,225 663.4,225.3 664.05,225.6 664.7,225.9 665.35,226.12 666,226.35 666.65,226.58 667.3,226.8 667.87,226.9 668.43,227 669,227.1" fill="none" stroke="#555" stroke-width="0.8"/>
<g fill="#ff00ff"><ellipse cx="398.6" cy="230.74" rx="1.75" ry="1.45"/><ellipse cx="399.28" cy="233.84" rx="1.75" ry="1.45"/><ellipse cx="399.96" cy="232.07" rx="1.75" ry="1.45"/><ellipse cx="400.64" cy="234.3" rx="1.75" ry="1.45"/><ellipse cx="401.32" cy="230.93" rx="1.75" ry="1.45"/><ellipse cx="402" cy="232.77" rx="1.75" ry="1.45"/><ellipse cx="402.68" cy="231.31" rx="1.75" ry="1.45"/><ellipse cx="403.36" cy="234.34" rx="1.75" ry="1.45"/><ellipse cx="404.04" cy="230.76" rx="1.75" ry="1.45"/><ellipse cx="404.72" cy="233.53" rx="1.75" ry="1.45"/><ellipse cx="405.4" cy="232.7" rx="1.75" ry="1.45"/><ellipse cx="406.08" cy="234.17" rx="1.75" ry="1.45"/><ellipse cx="406.76" cy="231.14" rx="1.75" ry="1.45"/><ellipse cx="407.44" cy="233.18" rx="1.75" ry="1.45"/><ellipse cx="408.12" cy="231.94" rx="1.75" ry="1.45"/><ellipse cx="408.8" cy="233.65" rx="1.75" ry="1.45"/><ellipse cx="409.48" cy="231.13" rx="1.75" ry="1.45"/><ellipse cx="410.16" cy="234.17" rx="1.75" ry="1.45"/><ellipse cx="410.84" cy="232.22" rx="1.75" ry="1.45"/><ellipse cx="411.52" cy="234.44" rx="1.75" ry="1.45"/><ellipse cx="412.4" cy="231" rx="1.75" ry="1.45"/><ellipse cx="412.7" cy="229" rx="1.75" ry="1.45"/><ellipse cx="413.2" cy="225.8" rx="1.75" ry="1.45"/><ellipse cx="413.7" cy="222.7" rx="1.75" ry="1.45"/><ellipse cx="414.5" cy="221.1" rx="1.75" ry="1.45"/><ellipse cx="415.3" cy="219.1" rx="1.75" ry="1.45"/><ellipse cx="416" cy="216.5" rx="1.75" ry="1.45"/><ellipse cx="416.6" cy="214.4" rx="1.75" ry="1.45"/><ellipse cx="417.4" cy="212.3" rx="1.75" ry="1.45"/><ellipse cx="418.1" cy="210.7" rx="1.75" ry="1.45"/><ellipse cx="418.9" cy="209.7" rx="1.75" ry="1.45"/><ellipse cx="419.45" cy="209.15" rx="1.75" ry="1.45"/><ellipse cx="420" cy="208.6" rx="1.75" ry="1.45"/><ellipse cx="421" cy="207.9" rx="1.75" ry="1.45"/><ellipse cx="422" cy="206.9" rx="1.75" ry="1.45"/><ellipse cx="422.55" cy="206.35" rx="1.75" ry="1.45"/><ellipse cx="423.1" cy="205.8" rx="1.75" ry="1.45"/><ellipse cx="424.1" cy="204.8" rx="1.75" ry="1.45"/><ellipse cx="424.65" cy="204.4" rx="1.75" ry="1.45"/><ellipse cx="425.2" cy="204" rx="1.75" ry="1.45"/><ellipse cx="426.2" cy="203.4" rx="1.75" ry="1.45"/><ellipse cx="426.75" cy="203.05" rx="1.75" ry="1.45"/><ellipse cx="427.3" cy="202.7" rx="1.75" ry="1.45"/><ellipse cx="427.9" cy="202.3" rx="1.75" ry="1.45"/><ellipse cx="428.5" cy="201.9" rx="1.75" ry="1.45"/><ellipse cx="429.1" cy="205" rx="1.75" ry="1.45"/><ellipse cx="429.9" cy="207.6" rx="1.75" ry="1.45"/><ellipse cx="430.4" cy="210.2" rx="1.75" ry="1.45"/><ellipse cx="431.2" cy="213.3" rx="1.75" ry="1.45"/><ellipse cx="431.9" cy="215.9" rx="1.75" ry="1.45"/><ellipse cx="432.7" cy="218.5" rx="1.75" ry="1.45"/><ellipse cx="433.5" cy="220.1" rx="1.75" ry="1.45"/><ellipse cx="434.5" cy="221.1" rx="1.75" ry="1.45"/><ellipse cx="435.05" cy="221.65" rx="1.75" ry="1.45"/><ellipse cx="435.6" cy="222.2" rx="1.75" ry="1.45"/><ellipse cx="436.6" cy="223.8" rx="1.75" ry="1.45"/><ellipse cx="437.15" cy="224.55" rx="1.75" ry="1.45"/><ellipse cx="437.7" cy="225.3" rx="1.75" ry="1.45"/><ellipse cx="438.7" cy="226.4" rx="1.75" ry="1.45"/><ellipse cx="439.25" cy="226.9" rx="1.75" ry="1.45"/><ellipse cx="439.8" cy="227.4" rx="1.75" ry="1.45"/><ellipse cx="440.4" cy="227.75" rx="1.75" ry="1.45"/><ellipse cx="441" cy="228.1" rx="1.75" ry="1.45"/><ellipse cx="441.7" cy="226.7" rx="1.75" ry="1.45"/><ellipse cx="442.4" cy="225.3" rx="1.75" ry="1.45"/><ellipse cx="443.4" cy="227.9" rx="1.75" ry="1.45"/><ellipse cx="444.4" cy="229.8" rx="1.75" ry="1.45"/><ellipse cx="445.2" cy="230.15" rx="1.75" ry="1.45"/><ellipse cx="446" cy="230.5" rx="1.75" ry="1.45"/><ellipse cx="446.8" cy="230.25" rx="1.75" ry="1.45"/><ellipse cx="447.6" cy="230" rx="1.75" ry="1.45"/><ellipse cx="448.3" cy="229.5" rx="1.75" ry="1.45"/><ellipse cx="448.9" cy="224.5" rx="1.75" ry="1.45"/><ellipse cx="449.6" cy="219.3" rx="1.75" ry="1.45"/><ellipse cx="450.3" cy="212.7" rx="1.75" ry="1.45"/><ellipse cx="450.7" cy="207.8" rx="1.75" ry="1.45"/><ellipse cx="451.3" cy="203.3" rx="1.75" ry="1.45"/><ellipse cx="452" cy="200.2" rx="1.75" ry="1.45"/><ellipse cx="452.6" cy="197.5" rx="1.75" ry="1.45"/><ellipse cx="453.2" cy="194.5" rx="1.75" ry="1.45"/><ellipse cx="453.6" cy="192.6" rx="1.75" ry="1.45"/><ellipse cx="454.3" cy="189.1" rx="1.75" ry="1.45"/><ellipse cx="455" cy="186.4" rx="1.75" ry="1.45"/><ellipse cx="455.7" cy="183.9" rx="1.75" ry="1.45"/><ellipse cx="456.7" cy="181.5" rx="1.75" ry="1.45"/><ellipse cx="457.25" cy="180.65" rx="1.75" ry="1.45"/><ellipse cx="457.8" cy="179.8" rx="1.75" ry="1.45"/><ellipse cx="458.8" cy="178.4" rx="1.75" ry="1.45"/><ellipse cx="459.5" cy="176.6" rx="1.75" ry="1.45"/><ellipse cx="460.2" cy="174.9" rx="1.75" ry="1.45"/><ellipse cx="460.9" cy="173.2" rx="1.75" ry="1.45"/><ellipse cx="461.6" cy="171.4" rx="1.75" ry="1.45"/><ellipse cx="462.3" cy="169.4" rx="1.75" ry="1.45"/><ellipse cx="463" cy="167.3" rx="1.75" ry="1.45"/><ellipse cx="463.9" cy="166.1" rx="1.75" ry="1.45"/><ellipse cx="464.7" cy="169.7" rx="1.75" ry="1.45"/><ellipse cx="465.6" cy="175.6" rx="1.75" ry="1.45"/><ellipse cx="466" cy="182.1" rx="1.75" ry="1.45"/><ellipse cx="466.5" cy="187.7" rx="1.75" ry="1.45"/><ellipse cx="467.2" cy="192.6" rx="1.75" ry="1.45"/><ellipse cx="468.1" cy="197.1" rx="1.75" ry="1.45"/><ellipse cx="469.1" cy="201.6" rx="1.75" ry="1.45"/><ellipse cx="469.9" cy="205.5" rx="1.75" ry="1.45"/><ellipse cx="470.7" cy="209.4" rx="1.75" ry="1.45"/><ellipse cx="471.4" cy="212.5" rx="1.75" ry="1.45"/><ellipse cx="472.05" cy="213.9" rx="1.75" ry="1.45"/><ellipse cx="472.7" cy="215.3" rx="1.75" ry="1.45"/><ellipse cx="473.25" cy="216.25" rx="1.75" ry="1.45"/><ellipse cx="473.8" cy="217.2" rx="1.75" ry="1.45"/><ellipse cx="474.55" cy="218.35" rx="1.75" ry="1.45"/><ellipse cx="475.3" cy="219.5" rx="1.75" ry="1.45"/><ellipse cx="476.1" cy="220.7" rx="1.75" ry="1.45"/><ellipse cx="476.9" cy="221.9" rx="1.75" ry="1.45"/><ellipse cx="477.7" cy="222.65" rx="1.75" ry="1.45"/><ellipse cx="478.5" cy="223.4" rx="1.75" ry="1.45"/><ellipse cx="479.25" cy="224.05" rx="1.75" ry="1.45"/><ellipse cx="480" cy="224.7" rx="1.75" ry="1.45"/><ellipse cx="480.8" cy="225.25" rx="1.75" ry="1.45"/><ellipse cx="481.6" cy="225.8" rx="1.75" ry="1.45"/><ellipse cx="482.4" cy="226.35" rx="1.75" ry="1.45"/><ellipse cx="483.2" cy="226.9" rx="1.75" ry="1.45"/><ellipse cx="483.95" cy="227.35" rx="1.75" ry="1.45"/><ellipse cx="484.7" cy="227.8" rx="1.75" ry="1.45"/><ellipse cx="485.5" cy="226.25" rx="1.75" ry="1.45"/><ellipse cx="486.3" cy="224.7" rx="1.75" ry="1.45"/><ellipse cx="487.3" cy="227.6" rx="1.75" ry="1.45"/><ellipse cx="488.3" cy="229.5" rx="1.75" ry="1.45"/><ellipse cx="488.9" cy="210.9" rx="1.75" ry="1.45"/><ellipse cx="489.4" cy="196.6" rx="1.75" ry="1.45"/><ellipse cx="490.2" cy="186.7" rx="1.75" ry="1.45"/><ellipse cx="490.7" cy="179.7" rx="1.75" ry="1.45"/><ellipse cx="491.4" cy="173.4" rx="1.75" ry="1.45"/><ellipse cx="492.1" cy="168.4" rx="1.75" ry="1.45"/><ellipse cx="493" cy="160.6" rx="1.75" ry="1.45"/><ellipse cx="493.7" cy="154.7" rx="1.75" ry="1.45"/><ellipse cx="494.5" cy="150" rx="1.75" ry="1.45"/><ellipse cx="495.1" cy="146.9" rx="1.75" ry="1.45"/><ellipse cx="495.8" cy="143.8" rx="1.75" ry="1.45"/><ellipse cx="496.5" cy="139.6" rx="1.75" ry="1.45"/><ellipse cx="497.4" cy="135.4" rx="1.75" ry="1.45"/><ellipse cx="498.2" cy="131.8" rx="1.75" ry="1.45"/><ellipse cx="498.9" cy="129.2" rx="1.75" ry="1.45"/><ellipse cx="499.7" cy="125.5" rx="1.75" ry="1.45"/><ellipse cx="500.5" cy="121.9" rx="1.75" ry="1.45"/><ellipse cx="501.2" cy="119.3" rx="1.75" ry="1.45"/><ellipse cx="502.1" cy="116.7" rx="1.75" ry="1.45"/><ellipse cx="502.8" cy="114.1" rx="1.75" ry="1.45"/><ellipse cx="503.6" cy="112" rx="1.75" ry="1.45"/><ellipse cx="504.15" cy="111.45" rx="1.75" ry="1.45"/><ellipse cx="504.7" cy="110.9" rx="1.75" ry="1.45"/><ellipse cx="505.3" cy="112.13" rx="1.75" ry="1.45"/><ellipse cx="505.9" cy="113.37" rx="1.75" ry="1.45"/><ellipse cx="506.5" cy="114.6" rx="1.75" ry="1.45"/><ellipse cx="507.3" cy="124.5" rx="1.75" ry="1.45"/><ellipse cx="508" cy="133.9" rx="1.75" ry="1.45"/><ellipse cx="508.8" cy="146.9" rx="1.75" ry="1.45"/><ellipse cx="509.4" cy="156.7" rx="1.75" ry="1.45"/><ellipse cx="510.2" cy="165.6" rx="1.75" ry="1.45"/><ellipse cx="510.6" cy="173.1" rx="1.75" ry="1.45"/><ellipse cx="511.3" cy="179.7" rx="1.75" ry="1.45"/><ellipse cx="512.2" cy="185.2" rx="1.75" ry="1.45"/><ellipse cx="512.8" cy="189.8" rx="1.75" ry="1.45"/><ellipse cx="513.8" cy="193.8" rx="1.75" ry="1.45"/><ellipse cx="514.4" cy="196.9" rx="1.75" ry="1.45"/><ellipse cx="515.3" cy="200.8" rx="1.75" ry="1.45"/><ellipse cx="516.1" cy="203.9" rx="1.75" ry="1.45"/><ellipse cx="516.65" cy="205.85" rx="1.75" ry="1.45"/><ellipse cx="517.2" cy="207.8" rx="1.75" ry="1.45"/><ellipse cx="517.8" cy="209.75" rx="1.75" ry="1.45"/><ellipse cx="518.4" cy="211.7" rx="1.75" ry="1.45"/><ellipse cx="518.95" cy="213.25" rx="1.75" ry="1.45"/><ellipse cx="519.5" cy="214.8" rx="1.75" ry="1.45"/><ellipse cx="520.3" cy="216.4" rx="1.75" ry="1.45"/><ellipse cx="521.1" cy="218" rx="1.75" ry="1.45"/><ellipse cx="521.9" cy="219.15" rx="1.75" ry="1.45"/><ellipse cx="522.7" cy="220.3" rx="1.75" ry="1.45"/><ellipse cx="523.37" cy="220.93" rx="1.75" ry="1.45"/><ellipse cx="524.03" cy="221.57" rx="1.75" ry="1.45"/><ellipse cx="524.7" cy="222.2" rx="1.75" ry="1.45"/><ellipse cx="525.43" cy="222.5" rx="1.75" ry="1.45"/><ellipse cx="526.17" cy="222.8" rx="1.75" ry="1.45"/><ellipse cx="526.9" cy="223.1" rx="1.75" ry="1.45"/><ellipse cx="527.57" cy="223.73" rx="1.75" ry="1.45"/><ellipse cx="528.23" cy="224.37" rx="1.75" ry="1.45"/><ellipse cx="528.9" cy="225" rx="1.75" ry="1.45"/><ellipse cx="529.7" cy="225.8" rx="1.75" ry="1.45"/><ellipse cx="530.5" cy="226.6" rx="1.75" ry="1.45"/><ellipse cx="531.25" cy="223.85" rx="1.75" ry="1.45"/><ellipse cx="532" cy="221.1" rx="1.75" ry="1.45"/><ellipse cx="532.55" cy="223.05" rx="1.75" ry="1.45"/><ellipse cx="533.1" cy="225" rx="1.75" ry="1.45"/><ellipse cx="533.9" cy="226.55" rx="1.75" ry="1.45"/><ellipse cx="534.7" cy="228.1" rx="1.75" ry="1.45"/><ellipse cx="535.5" cy="228.5" rx="1.75" ry="1.45"/><ellipse cx="536.3" cy="228.9" rx="1.75" ry="1.45"/><ellipse cx="536.9" cy="226.55" rx="1.75" ry="1.45"/><ellipse cx="537.5" cy="224.2" rx="1.75" ry="1.45"/><ellipse cx="538.15" cy="225.75" rx="1.75" ry="1.45"/><ellipse cx="538.8" cy="227.3" rx="1.75" ry="1.45"/><ellipse cx="539.55" cy="228.1" rx="1.75" ry="1.45"/><ellipse cx="540.3" cy="228.9" rx="1.75" ry="1.45"/><ellipse cx="540.9" cy="216.4" rx="1.75" ry="1.45"/><ellipse cx="541.4" cy="196.1" rx="1.75" ry="1.45"/><ellipse cx="542.2" cy="180" rx="1.75" ry="1.45"/><ellipse cx="542.8" cy="167.2" rx="1.75" ry="1.45"/><ellipse cx="543.4" cy="156.3" rx="1.75" ry="1.45"/><ellipse cx="544.2" cy="146.7" rx="1.75" ry="1.45"/><ellipse cx="544.8" cy="138.4" rx="1.75" ry="1.45"/><ellipse cx="545.4" cy="130.4" rx="1.75" ry="1.45"/><ellipse cx="546.1" cy="124.6" rx="1.75" ry="1.45"/><ellipse cx="546.7" cy="119.9" rx="1.75" ry="1.45"/><ellipse cx="547.3" cy="115.1" rx="1.75" ry="1.45"/><ellipse cx="548" cy="109.3" rx="1.75" ry="1.45"/><ellipse cx="548.6" cy="104.5" rx="1.75" ry="1.45"/><ellipse cx="549.6" cy="99.4" rx="1.75" ry="1.45"/><ellipse cx="550.5" cy="95.9" rx="1.75" ry="1.45"/><ellipse cx="551.2" cy="93.05" rx="1.75" ry="1.45"/><ellipse cx="551.9" cy="90.2" rx="1.75" ry="1.45"/><ellipse cx="552.45" cy="87.8" rx="1.75" ry="1.45"/><ellipse cx="553" cy="85.4" rx="1.75" ry="1.45"/><ellipse cx="553.7" cy="83.5" rx="1.75" ry="1.45"/><ellipse cx="554.4" cy="81.6" rx="1.75" ry="1.45"/><ellipse cx="555.05" cy="79.7" rx="1.75" ry="1.45"/><ellipse cx="555.7" cy="77.8" rx="1.75" ry="1.45"/><ellipse cx="556.45" cy="75.4" rx="1.75" ry="1.45"/><ellipse cx="557.2" cy="73" rx="1.75" ry="1.45"/><ellipse cx="557.9" cy="71.05" rx="1.75" ry="1.45"/><ellipse cx="558.6" cy="69.1" rx="1.75" ry="1.45"/><ellipse cx="559.35" cy="67.7" rx="1.75" ry="1.45"/><ellipse cx="560.1" cy="66.3" rx="1.75" ry="1.45"/><ellipse cx="560.75" cy="65.05" rx="1.75" ry="1.45"/><ellipse cx="561.4" cy="63.8" rx="1.75" ry="1.45"/><ellipse cx="562.2" cy="62.65" rx="1.75" ry="1.45"/><ellipse cx="563" cy="61.5" rx="1.75" ry="1.45"/><ellipse cx="563.75" cy="60.75" rx="1.75" ry="1.45"/><ellipse cx="564.5" cy="60" rx="1.75" ry="1.45"/><ellipse cx="565.15" cy="63.6" rx="1.75" ry="1.45"/><ellipse cx="565.8" cy="67.2" rx="1.75" ry="1.45"/><ellipse cx="566.8" cy="80.6" rx="1.75" ry="1.45"/><ellipse cx="567.4" cy="95.6" rx="1.75" ry="1.45"/><ellipse cx="567.9" cy="110.9" rx="1.75" ry="1.45"/><ellipse cx="568.7" cy="126.2" rx="1.75" ry="1.45"/><ellipse cx="569.3" cy="137.1" rx="1.75" ry="1.45"/><ellipse cx="569.9" cy="148" rx="1.75" ry="1.45"/><ellipse cx="570.6" cy="157.2" rx="1.75" ry="1.45"/><ellipse cx="571.6" cy="165.3" rx="1.75" ry="1.45"/><ellipse cx="572.2" cy="171.9" rx="1.75" ry="1.45"/><ellipse cx="572.8" cy="177.8" rx="1.75" ry="1.45"/><ellipse cx="573.6" cy="183.1" rx="1.75" ry="1.45"/><ellipse cx="574.4" cy="187.8" rx="1.75" ry="1.45"/><ellipse cx="575.2" cy="192.2" rx="1.75" ry="1.45"/><ellipse cx="575.9" cy="196.1" rx="1.75" ry="1.45"/><ellipse cx="576.7" cy="200" rx="1.75" ry="1.45"/><ellipse cx="577.5" cy="203.9" rx="1.75" ry="1.45"/><ellipse cx="578.15" cy="205.85" rx="1.75" ry="1.45"/><ellipse cx="578.8" cy="207.8" rx="1.75" ry="1.45"/><ellipse cx="579.8" cy="210.9" rx="1.75" ry="1.45"/><ellipse cx="580.6" cy="212.85" rx="1.75" ry="1.45"/><ellipse cx="581.4" cy="214.8" rx="1.75" ry="1.45"/><ellipse cx="582.2" cy="216" rx="1.75" ry="1.45"/><ellipse cx="583" cy="217.2" rx="1.75" ry="1.45"/><ellipse cx="583.75" cy="218.35" rx="1.75" ry="1.45"/><ellipse cx="584.5" cy="219.5" rx="1.75" ry="1.45"/><ellipse cx="585.2" cy="220.2" rx="1.75" ry="1.45"/><ellipse cx="585.9" cy="220.9" rx="1.75" ry="1.45"/><ellipse cx="586.6" cy="221.6" rx="1.75" ry="1.45"/><ellipse cx="587.2" cy="222.2" rx="1.75" ry="1.45"/><ellipse cx="587.8" cy="222.8" rx="1.75" ry="1.45"/><ellipse cx="588.4" cy="223.4" rx="1.75" ry="1.45"/><ellipse cx="589" cy="223.72" rx="1.75" ry="1.45"/><ellipse cx="589.6" cy="224.05" rx="1.75" ry="1.45"/><ellipse cx="590.2" cy="224.38" rx="1.75" ry="1.45"/><ellipse cx="590.8" cy="224.7" rx="1.75" ry="1.45"/><ellipse cx="591.57" cy="225.07" rx="1.75" ry="1.45"/><ellipse cx="592.33" cy="225.43" rx="1.75" ry="1.45"/><ellipse cx="593.1" cy="225.8" rx="1.75" ry="1.45"/><ellipse cx="593.9" cy="224.6" rx="1.75" ry="1.45"/><ellipse cx="594.7" cy="223.4" rx="1.75" ry="1.45"/><ellipse cx="595.5" cy="225" rx="1.75" ry="1.45"/><ellipse cx="596.3" cy="226.6" rx="1.75" ry="1.45"/><ellipse cx="597.1" cy="227.1" rx="1.75" ry="1.45"/><ellipse cx="597.9" cy="227.6" rx="1.75" ry="1.45"/><ellipse cx="598.6" cy="215" rx="1.75" ry="1.45"/><ellipse cx="599.1" cy="205.5" rx="1.75" ry="1.45"/><ellipse cx="599.7" cy="182.5" rx="1.75" ry="1.45"/><ellipse cx="600.3" cy="163.8" rx="1.75" ry="1.45"/><ellipse cx="601" cy="151.1" rx="1.75" ry="1.45"/><ellipse cx="601.55" cy="145.6" rx="1.75" ry="1.45"/><ellipse cx="602.1" cy="140.1" rx="1.75" ry="1.45"/><ellipse cx="602.8" cy="128" rx="1.75" ry="1.45"/><ellipse cx="603.8" cy="118.3" rx="1.75" ry="1.45"/><ellipse cx="604.5" cy="110.3" rx="1.75" ry="1.45"/><ellipse cx="605.2" cy="103.7" rx="1.75" ry="1.45"/><ellipse cx="606.2" cy="97.7" rx="1.75" ry="1.45"/><ellipse cx="606.9" cy="91.6" rx="1.75" ry="1.45"/><ellipse cx="607.7" cy="84.3" rx="1.75" ry="1.45"/><ellipse cx="608.6" cy="76.5" rx="1.75" ry="1.45"/><ellipse cx="609.6" cy="65" rx="1.75" ry="1.45"/><ellipse cx="610.4" cy="58.8" rx="1.75" ry="1.45"/><ellipse cx="611.3" cy="54.6" rx="1.75" ry="1.45"/><ellipse cx="612.3" cy="50.4" rx="1.75" ry="1.45"/><ellipse cx="612.9" cy="48.35" rx="1.75" ry="1.45"/><ellipse cx="613.5" cy="46.3" rx="1.75" ry="1.45"/><ellipse cx="614.05" cy="44.7" rx="1.75" ry="1.45"/><ellipse cx="614.6" cy="43.1" rx="1.75" ry="1.45"/><ellipse cx="615.2" cy="42.05" rx="1.75" ry="1.45"/><ellipse cx="615.8" cy="41" rx="1.75" ry="1.45"/><ellipse cx="616.5" cy="39.7" rx="1.75" ry="1.45"/><ellipse cx="617.2" cy="38.4" rx="1.75" ry="1.45"/><ellipse cx="618.2" cy="36.9" rx="1.75" ry="1.45"/><ellipse cx="619" cy="36.1" rx="1.75" ry="1.45"/><ellipse cx="619.8" cy="35.3" rx="1.75" ry="1.45"/><ellipse cx="620.6" cy="34" rx="1.75" ry="1.45"/><ellipse cx="621.4" cy="32.7" rx="1.75" ry="1.45"/><ellipse cx="622.15" cy="31.9" rx="1.75" ry="1.45"/><ellipse cx="622.9" cy="31.1" rx="1.75" ry="1.45"/><ellipse cx="623.6" cy="30.6" rx="1.75" ry="1.45"/><ellipse cx="624.3" cy="30.1" rx="1.75" ry="1.45"/><ellipse cx="625" cy="29.6" rx="1.75" ry="1.45"/><ellipse cx="625.7" cy="29.43" rx="1.75" ry="1.45"/><ellipse cx="626.4" cy="29.27" rx="1.75" ry="1.45"/><ellipse cx="627.1" cy="29.1" rx="1.75" ry="1.45"/><ellipse cx="627.8" cy="29.1" rx="1.75" ry="1.45"/><ellipse cx="628.5" cy="29.1" rx="1.75" ry="1.45"/><ellipse cx="629.2" cy="29.1" rx="1.75" ry="1.45"/><ellipse cx="629.95" cy="28.55" rx="1.75" ry="1.45"/><ellipse cx="630.7" cy="28" rx="1.75" ry="1.45"/><ellipse cx="631.25" cy="27.15" rx="1.75" ry="1.45"/><ellipse cx="631.8" cy="26.3" rx="1.75" ry="1.45"/><ellipse cx="632.5" cy="33.5" rx="1.75" ry="1.45"/><ellipse cx="633.1" cy="47.1" rx="1.75" ry="1.45"/><ellipse cx="633.9" cy="60.3" rx="1.75" ry="1.45"/><ellipse cx="634.6" cy="74.4" rx="1.75" ry="1.45"/><ellipse cx="635.1" cy="90.4" rx="1.75" ry="1.45"/><ellipse cx="635.8" cy="103.7" rx="1.75" ry="1.45"/><ellipse cx="636.5" cy="117.1" rx="1.75" ry="1.45"/><ellipse cx="637.3" cy="130.4" rx="1.75" ry="1.45"/><ellipse cx="638" cy="139.5" rx="1.75" ry="1.45"/><ellipse cx="638.7" cy="148.3" rx="1.75" ry="1.45"/><ellipse cx="639.5" cy="157" rx="1.75" ry="1.45"/><ellipse cx="640.1" cy="164.3" rx="1.75" ry="1.45"/><ellipse cx="640.8" cy="171.6" rx="1.75" ry="1.45"/><ellipse cx="641.5" cy="177.8" rx="1.75" ry="1.45"/><ellipse cx="642.1" cy="182.5" rx="1.75" ry="1.45"/><ellipse cx="643" cy="187.7" rx="1.75" ry="1.45"/><ellipse cx="643.9" cy="192.9" rx="1.75" ry="1.45"/><ellipse cx="644.6" cy="195.95" rx="1.75" ry="1.45"/><ellipse cx="645.3" cy="199" rx="1.75" ry="1.45"/><ellipse cx="645.9" cy="201.6" rx="1.75" ry="1.45"/><ellipse cx="646.5" cy="204.2" rx="1.75" ry="1.45"/><ellipse cx="647.07" cy="205.93" rx="1.75" ry="1.45"/><ellipse cx="647.63" cy="207.67" rx="1.75" ry="1.45"/><ellipse cx="648.2" cy="209.4" rx="1.75" ry="1.45"/><ellipse cx="648.8" cy="210.57" rx="1.75" ry="1.45"/><ellipse cx="649.4" cy="211.73" rx="1.75" ry="1.45"/><ellipse cx="650" cy="212.9" rx="1.75" ry="1.45"/><ellipse cx="650.73" cy="214.07" rx="1.75" ry="1.45"/><ellipse cx="651.47" cy="215.23" rx="1.75" ry="1.45"/><ellipse cx="652.2" cy="216.4" rx="1.75" ry="1.45"/><ellipse cx="652.9" cy="217.27" rx="1.75" ry="1.45"/><ellipse cx="653.6" cy="218.13" rx="1.75" ry="1.45"/><ellipse cx="654.3" cy="219" rx="1.75" ry="1.45"/><ellipse cx="654.95" cy="219.65" rx="1.75" ry="1.45"/><ellipse cx="655.6" cy="220.3" rx="1.75" ry="1.45"/><ellipse cx="656.25" cy="220.95" rx="1.75" ry="1.45"/><ellipse cx="656.9" cy="221.6" rx="1.75" ry="1.45"/><ellipse cx="657.55" cy="222.03" rx="1.75" ry="1.45"/><ellipse cx="658.2" cy="222.45" rx="1.75" ry="1.45"/><ellipse cx="658.85" cy="222.88" rx="1.75" ry="1.45"/><ellipse cx="659.5" cy="223.3" rx="1.75" ry="1.45"/><ellipse cx="660.15" cy="223.65" rx="1.75" ry="1.45"/><ellipse cx="660.8" cy="224" rx="1.75" ry="1.45"/><ellipse cx="661.45" cy="224.35" rx="1.75" ry="1.45"/><ellipse cx="662.1" cy="224.7" rx="1.75" ry="1.45"/><ellipse cx="662.75" cy="225" rx="1.75" ry="1.45"/><ellipse cx="663.4" cy="225.3" rx="1.75" ry="1.45"/><ellipse cx="664.05" cy="225.6" rx="1.75" ry="1.45"/><ellipse cx="664.7" cy="225.9" rx="1.75" ry="1.45"/><ellipse cx="665.35" cy="226.12" rx="1.75" ry="1.45"/><ellipse cx="666" cy="226.35" rx="1.75" ry="1.45"/><ellipse cx="666.65" cy="226.58" rx="1.75" ry="1.45"/><ellipse cx="667.3" cy="226.8" rx="1.75" ry="1.45"/><ellipse cx="667.87" cy="226.9" rx="1.75" ry="1.45"/><ellipse cx="668.43" cy="227" rx="1.75" ry="1.45"/><ellipse cx="669" cy="227.1" rx="1.75" ry="1.45"/></g>
<path d="M46.2,526.5 46.8,526.35 47.4,526.2 48.25,526.45 49.1,526.7 49.95,527.25 50.8,527.8 51.9,527 53,524.2 53.6,522.8 54.2,521.4 55.3,518.5 56.2,515.7 57,513.5 57.8,511.2 58.7,509.5 59.8,507.8 60.9,506.4 61.6,505.7 62.3,505 63.05,504.45 63.8,503.9 64.65,503.75 65.5,503.6 66.6,504.1 67.7,502.7 68.4,502.05 69.1,501.4 69.8,500.65 70.5,499.9 71.35,499.05 72.2,498.2 73.05,497.35 73.9,496.5 74.75,495.65 75.6,494.8 76.45,493.95 77.3,493.1 78.4,492 79.15,491.45 79.9,490.9 80.6,491.3 81.3,491.7 82.4,493.7 83.5,496.5 84.4,499.4 85.2,502.2 86,505 86.7,507.8 87.5,510.6 88.6,512.7 89.7,514.3 90.3,515 90.9,515.7 91.6,516.45 92.3,517.2 93,517.75 93.7,518.3 94.55,518.9 95.4,519.5 96.25,519.7 97.1,519.9 97.95,520.05 98.8,520.2 99.65,520.5 100.5,520.8 101.3,521.1 102.1,521.4 102.95,521.8 103.8,522.2 104.65,522.75 105.5,523.3 106.25,523.85 107,524.4 107.6,524.8 108.2,525.2 108.85,522.35 109.5,519.5 110.1,516 110.7,512.5 111.3,509.55 111.9,506.6 113,500.8 113.6,497.85 114.2,494.9 114.8,491.75 115.4,488.6 116.5,480.9 117.1,476.8 117.7,472.7 118.3,469.15 118.9,465.6 119.5,461.5 120.1,457.4 121.2,450.4 121.8,446.9 122.4,443.4 123,439.85 123.6,436.3 124.7,430.5 125.55,427.55 126.4,424.6 127.35,421.65 128.3,418.7 129.1,416.4 129.9,414.1 130.85,412.3 131.8,410.5 132.6,410.15 133.4,409.8 134,413.1 134.6,416.4 135.2,422.25 135.8,428.1 136.9,441 137.6,451.6 138.2,456.85 138.8,462.1 139.4,466.8 140,471.5 140.7,482 141.6,492.6 142.3,496.1 143,499.6 143.85,502.55 144.7,505.5 145.47,507.03 146.23,508.57 147,510.1 147.8,511.3 148.6,512.5 149.4,513.7 150.17,514.87 150.93,516.03 151.7,517.2 152.47,518.37 153.23,519.53 154,520.7 154.85,523.05 155.7,525.4 156.3,527.15 156.9,528.9 157.5,527.6 158.1,526.3 158.9,521.3 159.7,512.2 160.5,500.9 161.3,487.5 162,473.9 162.8,460.2 163.6,446.8 164.4,435.3 165.2,425.3 165.9,418.1 166.7,412.8 167.5,408.1 168.3,403.8 169.1,399.1 169.8,395.2 170.9,390.9 171.9,387.3 173,384.2 174.1,381.9 174.7,380.7 175.3,379.5 175.95,378.35 176.6,377.2 177.7,375.3 178.8,373.3 179.7,371.3 180.8,369.1 181.55,370.4 182.3,371.7 183.1,377.2 183.9,385.3 184.7,396.7 185.5,409.7 186.3,423.8 187,438.1 187.8,451 188.1,465.3 188.75,471.15 189.4,477 190.2,484.4 190.9,490.3 191.7,495 192.5,498.9 193.15,501.25 193.8,503.6 194.8,506.7 195.9,509.8 196.55,511.4 197.2,513 198,514.95 198.8,516.9 199.55,518.45 200.3,520 201.1,521.55 201.9,523.1 202.65,524.7 203.4,526.3 204.05,527.85 204.7,529.4 205.8,526.3 206.6,521.6 207.3,513.8 208.1,503.6 208.9,490.6 209.7,477 210.5,462.2 211.3,448.1 212.3,434.6 212.6,423.1 213.6,414.5 214.6,408.4 215.5,402.7 216.5,397.3 217.4,393.5 218.4,388.7 219.3,384.3 220.3,380.1 221.2,376.3 222.2,372.5 223.2,368.7 224.1,364.8 224.85,363.1 225.6,361.4 226.3,360.05 227,358.7 227.95,357.95 228.9,357.2 229.85,356.7 230.8,356.2 231.75,355.75 232.7,355.3 233.45,354.55 234.2,353.8 235.1,356.45 236,359.1 237.1,366.8 237.9,377.3 238.6,390.1 239.4,405 240.2,420.3 240.9,435.9 241.5,450.5 242.4,464.4 243.2,474.9 244,482.5 244.8,487.8 245.7,492.4 246.5,496 247.3,499.3 248.1,503.5 248.75,505.55 249.4,507.6 250,509.4 250.6,511.2 251.45,513.1 252.3,515 253.1,517.05 253.9,519.1 254.7,521.15 255.5,523.2 256.1,524.85 256.7,526.5 257.4,525.4 258.1,524.3 258.8,523.2 259.7,516.6 260.5,507.2 261.3,495.7 262.1,481.7 263,466.4 263.6,450 264.1,435 265,420.3 265.65,414.9 266.3,409.5 267.2,401.1 268.1,394.3 269,388.2 269.6,385.6 270.2,383 270.8,377.4 271.7,372.9 272.4,368.4 273.1,365 274,361.2 274.7,357.1 275.3,353.7 276.3,350.3 276.95,348.6 277.6,346.9 278.4,345.45 279.2,344 279.93,343.23 280.67,342.47 281.4,341.7 282.17,341.4 282.93,341.1 283.7,340.8 284.47,340.6 285.23,340.4 286,340.2 286.73,339.67 287.47,339.13 288.2,338.6 289,336.8 289.8,335 290.7,337.9 291.6,340.8 292.7,349.9 293.4,361.6 294.3,375.6 295,392.1 295.7,409.5 296.6,425.9 297.2,442.9 298.1,457.3 298.9,468.8 299.8,477 300.6,482.8 301.1,487.4 301.7,491.9 302.7,496 303.3,498.05 303.9,500.1 305,504.2 305.65,506.25 306.3,508.3 307.1,510.4 307.9,512.5 308.6,514.2 309.3,515.9 309.97,517 310.63,518.1 311.3,519.2 312.25,520.65 313.2,522.1 314.15,523.05 315.1,524 316.05,524.7 317,525.4 317.75,526.15 318.5,526.9" fill="none" stroke="#555" stroke-width="0.8"/>
<g fill="#8000ff"><ellipse cx="46.2" cy="526.5" rx="1.75" ry="1.45"/><ellipse cx="46.8" cy="526.35" rx="1.75" ry="1.45"/><ellipse cx="47.4" cy="526.2" rx="1.75" ry="1.45"/><ellipse cx="48.25" cy="526.45" rx="1.75" ry="1.45"/><ellipse cx="49.1" cy="526.7" rx="1.75" ry="1.45"/><ellipse cx="49.95" cy="527.25" rx="1.75" ry="1.45"/><ellipse cx="50.8" cy="527.8" rx="1.75" ry="1.45"/><ellipse cx="51.9" cy="527" rx="1.75" ry="1.45"/><ellipse cx="53" cy="524.2" rx="1.75" ry="1.45"/><ellipse cx="53.6" cy="522.8" rx="1.75" ry="1.45"/><ellipse cx="54.2" cy="521.4" rx="1.75" ry="1.45"/><ellipse cx="55.3" cy="518.5" rx="1.75" ry="1.45"/><ellipse cx="56.2" cy="515.7" rx="1.75" ry="1.45"/><ellipse cx="57" cy="513.5" rx="1.75" ry="1.45"/><ellipse cx="57.8" cy="511.2" rx="1.75" ry="1.45"/><ellipse cx="58.7" cy="509.5" rx="1.75" ry="1.45"/><ellipse cx="59.8" cy="507.8" rx="1.75" ry="1.45"/><ellipse cx="60.9" cy="506.4" rx="1.75" ry="1.45"/><ellipse cx="61.6" cy="505.7" rx="1.75" ry="1.45"/><ellipse cx="62.3" cy="505" rx="1.75" ry="1.45"/><ellipse cx="63.05" cy="504.45" rx="1.75" ry="1.45"/><ellipse cx="63.8" cy="503.9" rx="1.75" ry="1.45"/><ellipse cx="64.65" cy="503.75" rx="1.75" ry="1.45"/><ellipse cx="65.5" cy="503.6" rx="1.75" ry="1.45"/><ellipse cx="66.6" cy="504.1" rx="1.75" ry="1.45"/><ellipse cx="67.7" cy="502.7" rx="1.75" ry="1.45"/><ellipse cx="68.4" cy="502.05" rx="1.75" ry="1.45"/><ellipse cx="69.1" cy="501.4" rx="1.75" ry="1.45"/><ellipse cx="69.8" cy="500.65" rx="1.75" ry="1.45"/><ellipse cx="70.5" cy="499.9" rx="1.75" ry="1.45"/><ellipse cx="71.35" cy="499.05" rx="1.75" ry="1.45"/><ellipse cx="72.2" cy="498.2" rx="1.75" ry="1.45"/><ellipse cx="73.05" cy="497.35" rx="1.75" ry="1.45"/><ellipse cx="73.9" cy="496.5" rx="1.75" ry="1.45"/><ellipse cx="74.75" cy="495.65" rx="1.75" ry="1.45"/><ellipse cx="75.6" cy="494.8" rx="1.75" ry="1.45"/><ellipse cx="76.45" cy="493.95" rx="1.75" ry="1.45"/><ellipse cx="77.3" cy="493.1" rx="1.75" ry="1.45"/><ellipse cx="78.4" cy="492" rx="1.75" ry="1.45"/><ellipse cx="79.15" cy="491.45" rx="1.75" ry="1.45"/><ellipse cx="79.9" cy="490.9" rx="1.75" ry="1.45"/><ellipse cx="80.6" cy="491.3" rx="1.75" ry="1.45"/><ellipse cx="81.3" cy="491.7" rx="1.75" ry="1.45"/><ellipse cx="82.4" cy="493.7" rx="1.75" ry="1.45"/><ellipse cx="83.5" cy="496.5" rx="1.75" ry="1.45"/><ellipse cx="84.4" cy="499.4" rx="1.75" ry="1.45"/><ellipse cx="85.2" cy="502.2" rx="1.75" ry="1.45"/><ellipse cx="86" cy="505" rx="1.75" ry="1.45"/><ellipse cx="86.7" cy="507.8" rx="1.75" ry="1.45"/><ellipse cx="87.5" cy="510.6" rx="1.75" ry="1.45"/><ellipse cx="88.6" cy="512.7" rx="1.75" ry="1.45"/><ellipse cx="89.7" cy="514.3" rx="1.75" ry="1.45"/><ellipse cx="90.3" cy="515" rx="1.75" ry="1.45"/><ellipse cx="90.9" cy="515.7" rx="1.75" ry="1.45"/><ellipse cx="91.6" cy="516.45" rx="1.75" ry="1.45"/><ellipse cx="92.3" cy="517.2" rx="1.75" ry="1.45"/><ellipse cx="93" cy="517.75" rx="1.75" ry="1.45"/><ellipse cx="93.7" cy="518.3" rx="1.75" ry="1.45"/><ellipse cx="94.55" cy="518.9" rx="1.75" ry="1.45"/><ellipse cx="95.4" cy="519.5" rx="1.75" ry="1.45"/><ellipse cx="96.25" cy="519.7" rx="1.75" ry="1.45"/><ellipse cx="97.1" cy="519.9" rx="1.75" ry="1.45"/><ellipse cx="97.95" cy="520.05" rx="1.75" ry="1.45"/><ellipse cx="98.8" cy="520.2" rx="1.75" ry="1.45"/><ellipse cx="99.65" cy="520.5" rx="1.75" ry="1.45"/><ellipse cx="100.5" cy="520.8" rx="1.75" ry="1.45"/><ellipse cx="101.3" cy="521.1" rx="1.75" ry="1.45"/><ellipse cx="102.1" cy="521.4" rx="1.75" ry="1.45"/><ellipse cx="102.95" cy="521.8" rx="1.75" ry="1.45"/><ellipse cx="103.8" cy="522.2" rx="1.75" ry="1.45"/><ellipse cx="104.65" cy="522.75" rx="1.75" ry="1.45"/><ellipse cx="105.5" cy="523.3" rx="1.75" ry="1.45"/><ellipse cx="106.25" cy="523.85" rx="1.75" ry="1.45"/><ellipse cx="107" cy="524.4" rx="1.75" ry="1.45"/><ellipse cx="107.6" cy="524.8" rx="1.75" ry="1.45"/><ellipse cx="108.2" cy="525.2" rx="1.75" ry="1.45"/><ellipse cx="108.85" cy="522.35" rx="1.75" ry="1.45"/><ellipse cx="109.5" cy="519.5" rx="1.75" ry="1.45"/><ellipse cx="110.1" cy="516" rx="1.75" ry="1.45"/><ellipse cx="110.7" cy="512.5" rx="1.75" ry="1.45"/><ellipse cx="111.3" cy="509.55" rx="1.75" ry="1.45"/><ellipse cx="111.9" cy="506.6" rx="1.75" ry="1.45"/><ellipse cx="113" cy="500.8" rx="1.75" ry="1.45"/><ellipse cx="113.6" cy="497.85" rx="1.75" ry="1.45"/><ellipse cx="114.2" cy="494.9" rx="1.75" ry="1.45"/><ellipse cx="114.8" cy="491.75" rx="1.75" ry="1.45"/><ellipse cx="115.4" cy="488.6" rx="1.75" ry="1.45"/><ellipse cx="116.5" cy="480.9" rx="1.75" ry="1.45"/><ellipse cx="117.1" cy="476.8" rx="1.75" ry="1.45"/><ellipse cx="117.7" cy="472.7" rx="1.75" ry="1.45"/><ellipse cx="118.3" cy="469.15" rx="1.75" ry="1.45"/><ellipse cx="118.9" cy="465.6" rx="1.75" ry="1.45"/><ellipse cx="119.5" cy="461.5" rx="1.75" ry="1.45"/><ellipse cx="120.1" cy="457.4" rx="1.75" ry="1.45"/><ellipse cx="121.2" cy="450.4" rx="1.75" ry="1.45"/><ellipse cx="121.8" cy="446.9" rx="1.75" ry="1.45"/><ellipse cx="122.4" cy="443.4" rx="1.75" ry="1.45"/><ellipse cx="123" cy="439.85" rx="1.75" ry="1.45"/><ellipse cx="123.6" cy="436.3" rx="1.75" ry="1.45"/><ellipse cx="124.7" cy="430.5" rx="1.75" ry="1.45"/><ellipse cx="125.55" cy="427.55" rx="1.75" ry="1.45"/><ellipse cx="126.4" cy="424.6" rx="1.75" ry="1.45"/><ellipse cx="127.35" cy="421.65" rx="1.75" ry="1.45"/><ellipse cx="128.3" cy="418.7" rx="1.75" ry="1.45"/><ellipse cx="129.1" cy="416.4" rx="1.75" ry="1.45"/><ellipse cx="129.9" cy="414.1" rx="1.75" ry="1.45"/><ellipse cx="130.85" cy="412.3" rx="1.75" ry="1.45"/><ellipse cx="131.8" cy="410.5" rx="1.75" ry="1.45"/><ellipse cx="132.6" cy="410.15" rx="1.75" ry="1.45"/><ellipse cx="133.4" cy="409.8" rx="1.75" ry="1.45"/><ellipse cx="134" cy="413.1" rx="1.75" ry="1.45"/><ellipse cx="134.6" cy="416.4" rx="1.75" ry="1.45"/><ellipse cx="135.2" cy="422.25" rx="1.75" ry="1.45"/><ellipse cx="135.8" cy="428.1" rx="1.75" ry="1.45"/><ellipse cx="136.9" cy="441" rx="1.75" ry="1.45"/><ellipse cx="137.6" cy="451.6" rx="1.75" ry="1.45"/><ellipse cx="138.2" cy="456.85" rx="1.75" ry="1.45"/><ellipse cx="138.8" cy="462.1" rx="1.75" ry="1.45"/><ellipse cx="139.4" cy="466.8" rx="1.75" ry="1.45"/><ellipse cx="140" cy="471.5" rx="1.75" ry="1.45"/><ellipse cx="140.7" cy="482" rx="1.75" ry="1.45"/><ellipse cx="141.6" cy="492.6" rx="1.75" ry="1.45"/><ellipse cx="142.3" cy="496.1" rx="1.75" ry="1.45"/><ellipse cx="143" cy="499.6" rx="1.75" ry="1.45"/><ellipse cx="143.85" cy="502.55" rx="1.75" ry="1.45"/><ellipse cx="144.7" cy="505.5" rx="1.75" ry="1.45"/><ellipse cx="145.47" cy="507.03" rx="1.75" ry="1.45"/><ellipse cx="146.23" cy="508.57" rx="1.75" ry="1.45"/><ellipse cx="147" cy="510.1" rx="1.75" ry="1.45"/><ellipse cx="147.8" cy="511.3" rx="1.75" ry="1.45"/><ellipse cx="148.6" cy="512.5" rx="1.75" ry="1.45"/><ellipse cx="149.4" cy="513.7" rx="1.75" ry="1.45"/><ellipse cx="150.17" cy="514.87" rx="1.75" ry="1.45"/><ellipse cx="150.93" cy="516.03" rx="1.75" ry="1.45"/><ellipse cx="151.7" cy="517.2" rx="1.75" ry="1.45"/><ellipse cx="152.47" cy="518.37" rx="1.75" ry="1.45"/><ellipse cx="153.23" cy="519.53" rx="1.75" ry="1.45"/><ellipse cx="154" cy="520.7" rx="1.75" ry="1.45"/><ellipse cx="154.85" cy="523.05" rx="1.75" ry="1.45"/><ellipse cx="155.7" cy="525.4" rx="1.75" ry="1.45"/><ellipse cx="156.3" cy="527.15" rx="1.75" ry="1.45"/><ellipse cx="156.9" cy="528.9" rx="1.75" ry="1.45"/><ellipse cx="157.5" cy="527.6" rx="1.75" ry="1.45"/><ellipse cx="158.1" cy="526.3" rx="1.75" ry="1.45"/><ellipse cx="158.9" cy="521.3" rx="1.75" ry="1.45"/><ellipse cx="159.7" cy="512.2" rx="1.75" ry="1.45"/><ellipse cx="160.5" cy="500.9" rx="1.75" ry="1.45"/><ellipse cx="161.3" cy="487.5" rx="1.75" ry="1.45"/><ellipse cx="162" cy="473.9" rx="1.75" ry="1.45"/><ellipse cx="162.8" cy="460.2" rx="1.75" ry="1.45"/><ellipse cx="163.6" cy="446.8" rx="1.75" ry="1.45"/><ellipse cx="164.4" cy="435.3" rx="1.75" ry="1.45"/><ellipse cx="165.2" cy="425.3" rx="1.75" ry="1.45"/><ellipse cx="165.9" cy="418.1" rx="1.75" ry="1.45"/><ellipse cx="166.7" cy="412.8" rx="1.75" ry="1.45"/><ellipse cx="167.5" cy="408.1" rx="1.75" ry="1.45"/><ellipse cx="168.3" cy="403.8" rx="1.75" ry="1.45"/><ellipse cx="169.1" cy="399.1" rx="1.75" ry="1.45"/><ellipse cx="169.8" cy="395.2" rx="1.75" ry="1.45"/><ellipse cx="170.9" cy="390.9" rx="1.75" ry="1.45"/><ellipse cx="171.9" cy="387.3" rx="1.75" ry="1.45"/><ellipse cx="173" cy="384.2" rx="1.75" ry="1.45"/><ellipse cx="174.1" cy="381.9" rx="1.75" ry="1.45"/><ellipse cx="174.7" cy="380.7" rx="1.75" ry="1.45"/><ellipse cx="175.3" cy="379.5" rx="1.75" ry="1.45"/><ellipse cx="175.95" cy="378.35" rx="1.75" ry="1.45"/><ellipse cx="176.6" cy="377.2" rx="1.75" ry="1.45"/><ellipse cx="177.7" cy="375.3" rx="1.75" ry="1.45"/><ellipse cx="178.8" cy="373.3" rx="1.75" ry="1.45"/><ellipse cx="179.7" cy="371.3" rx="1.75" ry="1.45"/><ellipse cx="180.8" cy="369.1" rx="1.75" ry="1.45"/><ellipse cx="181.55" cy="370.4" rx="1.75" ry="1.45"/><ellipse cx="182.3" cy="371.7" rx="1.75" ry="1.45"/><ellipse cx="183.1" cy="377.2" rx="1.75" ry="1.45"/><ellipse cx="183.9" cy="385.3" rx="1.75" ry="1.45"/><ellipse cx="184.7" cy="396.7" rx="1.75" ry="1.45"/><ellipse cx="185.5" cy="409.7" rx="1.75" ry="1.45"/><ellipse cx="186.3" cy="423.8" rx="1.75" ry="1.45"/><ellipse cx="187" cy="438.1" rx="1.75" ry="1.45"/><ellipse cx="187.8" cy="451" rx="1.75" ry="1.45"/><ellipse cx="188.1" cy="465.3" rx="1.75" ry="1.45"/><ellipse cx="188.75" cy="471.15" rx="1.75" ry="1.45"/><ellipse cx="189.4" cy="477" rx="1.75" ry="1.45"/><ellipse cx="190.2" cy="484.4" rx="1.75" ry="1.45"/><ellipse cx="190.9" cy="490.3" rx="1.75" ry="1.45"/><ellipse cx="191.7" cy="495" rx="1.75" ry="1.45"/><ellipse cx="192.5" cy="498.9" rx="1.75" ry="1.45"/><ellipse cx="193.15" cy="501.25" rx="1.75" ry="1.45"/><ellipse cx="193.8" cy="503.6" rx="1.75" ry="1.45"/><ellipse cx="194.8" cy="506.7" rx="1.75" ry="1.45"/><ellipse cx="195.9" cy="509.8" rx="1.75" ry="1.45"/><ellipse cx="196.55" cy="511.4" rx="1.75" ry="1.45"/><ellipse cx="197.2" cy="513" rx="1.75" ry="1.45"/><ellipse cx="198" cy="514.95" rx="1.75" ry="1.45"/><ellipse cx="198.8" cy="516.9" rx="1.75" ry="1.45"/><ellipse cx="199.55" cy="518.45" rx="1.75" ry="1.45"/><ellipse cx="200.3" cy="520" rx="1.75" ry="1.45"/><ellipse cx="201.1" cy="521.55" rx="1.75" ry="1.45"/><ellipse cx="201.9" cy="523.1" rx="1.75" ry="1.45"/><ellipse cx="202.65" cy="524.7" rx="1.75" ry="1.45"/><ellipse cx="203.4" cy="526.3" rx="1.75" ry="1.45"/><ellipse cx="204.05" cy="527.85" rx="1.75" ry="1.45"/><ellipse cx="204.7" cy="529.4" rx="1.75" ry="1.45"/><ellipse cx="205.8" cy="526.3" rx="1.75" ry="1.45"/><ellipse cx="206.6" cy="521.6" rx="1.75" ry="1.45"/><ellipse cx="207.3" cy="513.8" rx="1.75" ry="1.45"/><ellipse cx="208.1" cy="503.6" rx="1.75" ry="1.45"/><ellipse cx="208.9" cy="490.6" rx="1.75" ry="1.45"/><ellipse cx="209.7" cy="477" rx="1.75" ry="1.45"/><ellipse cx="210.5" cy="462.2" rx="1.75" ry="1.45"/><ellipse cx="211.3" cy="448.1" rx="1.75" ry="1.45"/><ellipse cx="212.3" cy="434.6" rx="1.75" ry="1.45"/><ellipse cx="212.6" cy="423.1" rx="1.75" ry="1.45"/><ellipse cx="213.6" cy="414.5" rx="1.75" ry="1.45"/><ellipse cx="214.6" cy="408.4" rx="1.75" ry="1.45"/><ellipse cx="215.5" cy="402.7" rx="1.75" ry="1.45"/><ellipse cx="216.5" cy="397.3" rx="1.75" ry="1.45"/><ellipse cx="217.4" cy="393.5" rx="1.75" ry="1.45"/><ellipse cx="218.4" cy="388.7" rx="1.75" ry="1.45"/><ellipse cx="219.3" cy="384.3" rx="1.75" ry="1.45"/><ellipse cx="220.3" cy="380.1" rx="1.75" ry="1.45"/><ellipse cx="221.2" cy="376.3" rx="1.75" ry="1.45"/><ellipse cx="222.2" cy="372.5" rx="1.75" ry="1.45"/><ellipse cx="223.2" cy="368.7" rx="1.75" ry="1.45"/><ellipse cx="224.1" cy="364.8" rx="1.75" ry="1.45"/><ellipse cx="224.85" cy="363.1" rx="1.75" ry="1.45"/><ellipse cx="225.6" cy="361.4" rx="1.75" ry="1.45"/><ellipse cx="226.3" cy="360.05" rx="1.75" ry="1.45"/><ellipse cx="227" cy="358.7" rx="1.75" ry="1.45"/><ellipse cx="227.95" cy="357.95" rx="1.75" ry="1.45"/><ellipse cx="228.9" cy="357.2" rx="1.75" ry="1.45"/><ellipse cx="229.85" cy="356.7" rx="1.75" ry="1.45"/><ellipse cx="230.8" cy="356.2" rx="1.75" ry="1.45"/><ellipse cx="231.75" cy="355.75" rx="1.75" ry="1.45"/><ellipse cx="232.7" cy="355.3" rx="1.75" ry="1.45"/><ellipse cx="233.45" cy="354.55" rx="1.75" ry="1.45"/><ellipse cx="234.2" cy="353.8" rx="1.75" ry="1.45"/><ellipse cx="235.1" cy="356.45" rx="1.75" ry="1.45"/><ellipse cx="236" cy="359.1" rx="1.75" ry="1.45"/><ellipse cx="237.1" cy="366.8" rx="1.75" ry="1.45"/><ellipse cx="237.9" cy="377.3" rx="1.75" ry="1.45"/><ellipse cx="238.6" cy="390.1" rx="1.75" ry="1.45"/><ellipse cx="239.4" cy="405" rx="1.75" ry="1.45"/><ellipse cx="240.2" cy="420.3" rx="1.75" ry="1.45"/><ellipse cx="240.9" cy="435.9" rx="1.75" ry="1.45"/><ellipse cx="241.5" cy="450.5" rx="1.75" ry="1.45"/><ellipse cx="242.4" cy="464.4" rx="1.75" ry="1.45"/><ellipse cx="243.2" cy="474.9" rx="1.75" ry="1.45"/><ellipse cx="244" cy="482.5" rx="1.75" ry="1.45"/><ellipse cx="244.8" cy="487.8" rx="1.75" ry="1.45"/><ellipse cx="245.7" cy="492.4" rx="1.75" ry="1.45"/><ellipse cx="246.5" cy="496" rx="1.75" ry="1.45"/><ellipse cx="247.3" cy="499.3" rx="1.75" ry="1.45"/><ellipse cx="248.1" cy="503.5" rx="1.75" ry="1.45"/><ellipse cx="248.75" cy="505.55" rx="1.75" ry="1.45"/><ellipse cx="249.4" cy="507.6" rx="1.75" ry="1.45"/><ellipse cx="250" cy="509.4" rx="1.75" ry="1.45"/><ellipse cx="250.6" cy="511.2" rx="1.75" ry="1.45"/><ellipse cx="251.45" cy="513.1" rx="1.75" ry="1.45"/><ellipse cx="252.3" cy="515" rx="1.75" ry="1.45"/><ellipse cx="253.1" cy="517.05" rx="1.75" ry="1.45"/><ellipse cx="253.9" cy="519.1" rx="1.75" ry="1.45"/><ellipse cx="254.7" cy="521.15" rx="1.75" ry="1.45"/><ellipse cx="255.5" cy="523.2" rx="1.75" ry="1.45"/><ellipse cx="256.1" cy="524.85" rx="1.75" ry="1.45"/><ellipse cx="256.7" cy="526.5" rx="1.75" ry="1.45"/><ellipse cx="257.4" cy="525.4" rx="1.75" ry="1.45"/><ellipse cx="258.1" cy="524.3" rx="1.75" ry="1.45"/><ellipse cx="258.8" cy="523.2" rx="1.75" ry="1.45"/><ellipse cx="259.7" cy="516.6" rx="1.75" ry="1.45"/><ellipse cx="260.5" cy="507.2" rx="1.75" ry="1.45"/><ellipse cx="261.3" cy="495.7" rx="1.75" ry="1.45"/><ellipse cx="262.1" cy="481.7" rx="1.75" ry="1.45"/><ellipse cx="263" cy="466.4" rx="1.75" ry="1.45"/><ellipse cx="263.6" cy="450" rx="1.75" ry="1.45"/><ellipse cx="264.1" cy="435" rx="1.75" ry="1.45"/><ellipse cx="265" cy="420.3" rx="1.75" ry="1.45"/><ellipse cx="265.65" cy="414.9" rx="1.75" ry="1.45"/><ellipse cx="266.3" cy="409.5" rx="1.75" ry="1.45"/><ellipse cx="267.2" cy="401.1" rx="1.75" ry="1.45"/><ellipse cx="268.1" cy="394.3" rx="1.75" ry="1.45"/><ellipse cx="269" cy="388.2" rx="1.75" ry="1.45"/><ellipse cx="269.6" cy="385.6" rx="1.75" ry="1.45"/><ellipse cx="270.2" cy="383" rx="1.75" ry="1.45"/><ellipse cx="270.8" cy="377.4" rx="1.75" ry="1.45"/><ellipse cx="271.7" cy="372.9" rx="1.75" ry="1.45"/><ellipse cx="272.4" cy="368.4" rx="1.75" ry="1.45"/><ellipse cx="273.1" cy="365" rx="1.75" ry="1.45"/><ellipse cx="274" cy="361.2" rx="1.75" ry="1.45"/><ellipse cx="274.7" cy="357.1" rx="1.75" ry="1.45"/><ellipse cx="275.3" cy="353.7" rx="1.75" ry="1.45"/><ellipse cx="276.3" cy="350.3" rx="1.75" ry="1.45"/><ellipse cx="276.95" cy="348.6" rx="1.75" ry="1.45"/><ellipse cx="277.6" cy="346.9" rx="1.75" ry="1.45"/><ellipse cx="278.4" cy="345.45" rx="1.75" ry="1.45"/><ellipse cx="279.2" cy="344" rx="1.75" ry="1.45"/><ellipse cx="279.93" cy="343.23" rx="1.75" ry="1.45"/><ellipse cx="280.67" cy="342.47" rx="1.75" ry="1.45"/><ellipse cx="281.4" cy="341.7" rx="1.75" ry="1.45"/><ellipse cx="282.17" cy="341.4" rx="1.75" ry="1.45"/><ellipse cx="282.93" cy="341.1" rx="1.75" ry="1.45"/><ellipse cx="283.7" cy="340.8" rx="1.75" ry="1.45"/><ellipse cx="284.47" cy="340.6" rx="1.75" ry="1.45"/><ellipse cx="285.23" cy="340.4" rx="1.75" ry="1.45"/><ellipse cx="286" cy="340.2" rx="1.75" ry="1.45"/><ellipse cx="286.73" cy="339.67" rx="1.75" ry="1.45"/><ellipse cx="287.47" cy="339.13" rx="1.75" ry="1.45"/><ellipse cx="288.2" cy="338.6" rx="1.75" ry="1.45"/><ellipse cx="289" cy="336.8" rx="1.75" ry="1.45"/><ellipse cx="289.8" cy="335" rx="1.75" ry="1.45"/><ellipse cx="290.7" cy="337.9" rx="1.75" ry="1.45"/><ellipse cx="291.6" cy="340.8" rx="1.75" ry="1.45"/><ellipse cx="292.7" cy="349.9" rx="1.75" ry="1.45"/><ellipse cx="293.4" cy="361.6" rx="1.75" ry="1.45"/><ellipse cx="294.3" cy="375.6" rx="1.75" ry="1.45"/><ellipse cx="295" cy="392.1" rx="1.75" ry="1.45"/><ellipse cx="295.7" cy="409.5" rx="1.75" ry="1.45"/><ellipse cx="296.6" cy="425.9" rx="1.75" ry="1.45"/><ellipse cx="297.2" cy="442.9" rx="1.75" ry="1.45"/><ellipse cx="298.1" cy="457.3" rx="1.75" ry="1.45"/><ellipse cx="298.9" cy="468.8" rx="1.75" ry="1.45"/><ellipse cx="299.8" cy="477" rx="1.75" ry="1.45"/><ellipse cx="300.6" cy="482.8" rx="1.75" ry="1.45"/><ellipse cx="301.1" cy="487.4" rx="1.75" ry="1.45"/><ellipse cx="301.7" cy="491.9" rx="1.75" ry="1.45"/><ellipse cx="302.7" cy="496" rx="1.75" ry="1.45"/><ellipse cx="303.3" cy="498.05" rx="1.75" ry="1.45"/><ellipse cx="303.9" cy="500.1" rx="1.75" ry="1.45"/><ellipse cx="305" cy="504.2" rx="1.75" ry="1.45"/><ellipse cx="305.65" cy="506.25" rx="1.75" ry="1.45"/><ellipse cx="306.3" cy="508.3" rx="1.75" ry="1.45"/><ellipse cx="307.1" cy="510.4" rx="1.75" ry="1.45"/><ellipse cx="307.9" cy="512.5" rx="1.75" ry="1.45"/><ellipse cx="308.6" cy="514.2" rx="1.75" ry="1.45"/><ellipse cx="309.3" cy="515.9" rx="1.75" ry="1.45"/><ellipse cx="309.97" cy="517" rx="1.75" ry="1.45"/><ellipse cx="310.63" cy="518.1" rx="1.75" ry="1.45"/><ellipse cx="311.3" cy="519.2" rx="1.75" ry="1.45"/><ellipse cx="312.25" cy="520.65" rx="1.75" ry="1.45"/><ellipse cx="313.2" cy="522.1" rx="1.75" ry="1.45"/><ellipse cx="314.15" cy="523.05" rx="1.75" ry="1.45"/><ellipse cx="315.1" cy="524" rx="1.75" ry="1.45"/><ellipse cx="316.05" cy="524.7" rx="1.75" ry="1.45"/><ellipse cx="317" cy="525.4" rx="1.75" ry="1.45"/><ellipse cx="317.75" cy="526.15" rx="1.75" ry="1.45"/><ellipse cx="318.5" cy="526.9" rx="1.75" ry="1.45"/></g>
<path d="M81.7,176L73.42,182.98" stroke="#ff0000" stroke-width="0.75" fill="none"/>
<path d="M69.6,186.2L72.58,181.2L75.03,184.11Z" fill="#ff0000"/>
<path d="M130.5,130.3L122.01,137.95" stroke="#ff0000" stroke-width="0.75" fill="none"/>
<path d="M118.3,141.3L121.11,136.21L123.66,139.03Z" fill="#ff0000"/>
<path d="M180.5,92.1L172.41,98.96" stroke="#ff0000" stroke-width="0.75" fill="none"/>
<path d="M168.6,102.2L171.56,97.19L174.02,100.09Z" fill="#ff0000"/>
<path d="M229.4,59.7L221.4,66.55" stroke="#ff0000" stroke-width="0.75" fill="none"/>
<path d="M217.6,69.8L220.54,64.78L223.01,67.67Z" fill="#ff0000"/>
<path d="M278.7,25.2L271.08,32.21" stroke="#ff0000" stroke-width="0.75" fill="none"/>
<path d="M267.4,35.6L270.16,30.48L272.73,33.27Z" fill="#ff0000"/>
<path d="M62.8,222.2L54.66,229.31" stroke="#00ff00" stroke-width="0.75" fill="none"/>
<path d="M50.9,232.6L53.79,227.55L56.29,230.41Z" fill="#00ff00"/>
<path d="M111.3,221.4L102.86,228.8" stroke="#00ff00" stroke-width="0.75" fill="none"/>
<path d="M99.1,232.1L101.98,227.04L104.49,229.9Z" fill="#00ff00"/>
<path d="M159.8,219.2L151.77,226.21" stroke="#00ff00" stroke-width="0.75" fill="none"/>
<path d="M148,229.5L150.89,224.45L153.39,227.31Z" fill="#00ff00"/>
<path d="M210.8,216.4L202.55,223.69" stroke="#00ff00" stroke-width="0.75" fill="none"/>
<path d="M198.8,227L201.66,221.93L204.18,224.78Z" fill="#00ff00"/>
<path d="M258.9,217.8L250.95,224.8" stroke="#00ff00" stroke-width="0.75" fill="none"/>
<path d="M247.2,228.1L250.07,223.04L252.58,225.89Z" fill="#00ff00"/>
<text transform="translate(66.2,180.5) rotate(-90)" font-size="11.3">19 ppm</text>
<text transform="translate(115.3,140.3) rotate(-90)" font-size="11.3">38 ppm</text>
<text transform="translate(160.7,105.4) rotate(-90)" font-size="11.3">57 ppm</text>
<text transform="translate(210.2,73.1) rotate(-90)" font-size="11.3">76 ppm</text>
<text transform="translate(254,60.4) rotate(-90)" font-size="11.3">95 ppm</text>
<path d="M442.5,190.1L433.77,197.71" stroke="#ff0000" stroke-width="0.75" fill="none"/>
<path d="M430,201L432.9,195.95L435.39,198.82Z" fill="#ff0000"/>
<path d="M477.8,154.1L469.58,161.23" stroke="#ff0000" stroke-width="0.75" fill="none"/>
<path d="M465.8,164.5L468.71,159.46L471.2,162.33Z" fill="#ff0000"/>
<path d="M519.2,99.6L511.35,106.5" stroke="#ff0000" stroke-width="0.75" fill="none"/>
<path d="M507.6,109.8L510.48,104.74L512.98,107.59Z" fill="#ff0000"/>
<path d="M578.3,47.5L570.13,54.77" stroke="#ff0000" stroke-width="0.75" fill="none"/>
<path d="M566.4,58.1L569.24,53.02L571.77,55.86Z" fill="#ff0000"/>
<path d="M647.3,17.3L638.82,24.47" stroke="#ff0000" stroke-width="0.75" fill="none"/>
<path d="M635,27.7L637.97,22.7L640.43,25.6Z" fill="#ff0000"/>
<path d="M427.2,223.2L419.12,229.6" stroke="#00ff00" stroke-width="0.75" fill="none"/>
<path d="M415.2,232.7L418.33,227.8L420.69,230.78Z" fill="#00ff00"/>
<path d="M461.6,219.6L454.18,226.42" stroke="#00ff00" stroke-width="0.75" fill="none"/>
<path d="M450.5,229.8L453.26,224.68L455.84,227.48Z" fill="#00ff00"/>
<path d="M501.6,219.3L493.75,226.2" stroke="#00ff00" stroke-width="0.75" fill="none"/>
<path d="M490,229.5L492.88,224.44L495.38,227.29Z" fill="#00ff00"/>
<path d="M554.8,217.8L546.81,225.04" stroke="#00ff00" stroke-width="0.75" fill="none"/>
<path d="M543.1,228.4L545.9,223.3L548.45,226.12Z" fill="#00ff00"/>
<path d="M613.5,216.4L605.47,223.81" stroke="#00ff00" stroke-width="0.75" fill="none"/>
<path d="M601.8,227.2L604.55,222.07L607.13,224.87Z" fill="#00ff00"/>
<text transform="translate(426.1,197.6) rotate(-90)" font-size="11.3">19 ppm</text>
<text transform="translate(461.9,162.5) rotate(-90)" font-size="11.3">38 ppm</text>
<text transform="translate(502.2,105.4) rotate(-90)" font-size="11.3">57 ppm</text>
<text transform="translate(560,57.1) rotate(-90)" font-size="11.3">76 ppm</text>
<text transform="translate(606,56) rotate(-90)" font-size="11.3">95 ppm</text>
<path d="M93.9,480.1L86.36,487.1" stroke="#ff0000" stroke-width="0.75" fill="none"/>
<path d="M82.7,490.5L85.44,485.37L88.02,488.15Z" fill="#ff0000"/>
<path d="M147.8,399.1L139.58,406.23" stroke="#ff0000" stroke-width="0.75" fill="none"/>
<path d="M135.8,409.5L138.71,404.46L141.2,407.33Z" fill="#ff0000"/>
<path d="M196.8,359.4L188.75,366.49" stroke="#ff0000" stroke-width="0.75" fill="none"/>
<path d="M185,369.8L187.87,364.74L190.38,367.59Z" fill="#ff0000"/>
<path d="M248.5,341.3L240.59,348.53" stroke="#ff0000" stroke-width="0.75" fill="none"/>
<path d="M236.9,351.9L239.68,346.79L242.24,349.59Z" fill="#ff0000"/>
<path d="M304.2,323.5L296.05,330.69" stroke="#ff0000" stroke-width="0.75" fill="none"/>
<path d="M292.3,334L295.17,328.94L297.68,331.79Z" fill="#ff0000"/>
<path d="M68,517.1L59.6,523.86" stroke="#00ff00" stroke-width="0.75" fill="none"/>
<path d="M55.7,527L58.79,522.07L61.18,525.03Z" fill="#00ff00"/>
<path d="M123.6,516.1L115.51,522.96" stroke="#00ff00" stroke-width="0.75" fill="none"/>
<path d="M111.7,526.2L114.66,521.19L117.12,524.09Z" fill="#00ff00"/>
<path d="M173.4,518L164.88,524.94" stroke="#00ff00" stroke-width="0.75" fill="none"/>
<path d="M161,528.1L164.06,523.15L166.46,526.1Z" fill="#00ff00"/>
<path d="M220,518L211.83,524.88" stroke="#00ff00" stroke-width="0.75" fill="none"/>
<path d="M208,528.1L210.98,523.1L213.43,526.01Z" fill="#00ff00"/>
<path d="M273.1,517.5L264.93,524.77" stroke="#00ff00" stroke-width="0.75" fill="none"/>
<path d="M261.2,528.1L264.04,523.02L266.57,525.86Z" fill="#00ff00"/>
<text transform="translate(82.7,484.45) rotate(-90)" font-size="11.3">19 ppm</text>
<text transform="translate(136.4,403.95) rotate(-90)" font-size="11.3">38 ppm</text>
<text transform="translate(181.7,361.9) rotate(-90)" font-size="11.3">57 ppm</text>
<text transform="translate(228,354.1) rotate(-90)" font-size="11.3">76 ppm</text>
<text transform="translate(269,353.1) rotate(-90)" font-size="11.3">95 ppm</text>
<path d="M53.9,30.4L68.7,30.4" stroke="#00ff00" stroke-width="0.9" fill="none"/>
<path d="M73.7,30.4L68.2,32L68.2,28.8Z" fill="#00ff00"/>
<path d="M54.8,45.6L69.1,45.6" stroke="#ff0000" stroke-width="0.9" fill="none"/>
<path d="M74.1,45.6L68.6,47.2L68.6,44Z" fill="#ff0000"/>
<g font-size="11.3"><text x="78.6" y="33.9">2- Propanol in</text><text x="78.6" y="48.8">2- Propanol out</text></g>
<path d="M400.8,30.2L414.8,30.2" stroke="#00ff00" stroke-width="0.9" fill="none"/>
<path d="M419.8,30.2L414.3,31.8L414.3,28.6Z" fill="#00ff00"/>
<path d="M401.2,45.1L415.4,45.1" stroke="#ff0000" stroke-width="0.9" fill="none"/>
<path d="M420.4,45.1L414.9,46.7L414.9,43.5Z" fill="#ff0000"/>
<g font-size="11.3"><text x="426.6" y="34.3">Toluene in</text><text x="426.6" y="48.1">Toluene out</text></g>
<path d="M48.8,327L62.8,327" stroke="#00ff00" stroke-width="0.9" fill="none"/>
<path d="M67.8,327L62.3,328.6L62.3,325.4Z" fill="#00ff00"/>
<path d="M48.8,341.6L62.8,341.6" stroke="#ff0000" stroke-width="0.9" fill="none"/>
<path d="M67.8,341.6L62.3,343.2L62.3,340Z" fill="#ff0000"/>
<g font-size="11.3"><text x="74.4" y="330.8">Formaldehyde in</text><text x="74.4" y="345.8">Formaldehyde out</text></g>
<path d="M423.82,490.47L641.87,339.51" stroke="#333333" stroke-width="0.9" fill="none"/>
<path d="M423.82,513.13L641.87,319.3" stroke="#ff5050" stroke-width="0.9" fill="none"/>
<path d="M423.82,505.72L641.87,415.62" stroke="#40ff40" stroke-width="0.9" fill="none"/>
<circle cx="423.82" cy="496.11" r="2.65" fill="url(#gk)"/>
<circle cx="478.33" cy="449.44" r="2.65" fill="url(#gk)"/>
<circle cx="532.84" cy="408.25" r="2.65" fill="url(#gk)"/>
<circle cx="587.35" cy="378.05" r="2.65" fill="url(#gk)"/>
<circle cx="641.87" cy="343.1" r="2.65" fill="url(#gk)"/>
<circle cx="423.82" cy="510.58" r="2.65" fill="url(#gr)"/>
<circle cx="478.33" cy="472.14" r="2.65" fill="url(#gr)"/>
<circle cx="532.84" cy="413.85" r="2.65" fill="url(#gr)"/>
<circle cx="587.35" cy="360.31" r="2.65" fill="url(#gr)"/>
<circle cx="641.87" cy="324.2" r="2.65" fill="url(#gr)"/>
<circle cx="423.82" cy="521.14" r="2.65" fill="url(#ggr)"/>
<circle cx="478.33" cy="471.72" r="2.65" fill="url(#ggr)"/>
<circle cx="532.84" cy="447.54" r="2.65" fill="url(#ggr)"/>
<circle cx="587.35" cy="437.19" r="2.65" fill="url(#ggr)"/>
<circle cx="641.87" cy="425.78" r="2.65" fill="url(#ggr)"/>
<circle cx="428.1" cy="326.6" r="2.65" fill="url(#gk)"/>
<circle cx="428.1" cy="340.2" r="2.65" fill="url(#gr)"/>
<circle cx="428.1" cy="354" r="2.65" fill="url(#ggr)"/>
<g font-size="11.3"><text x="436.4" y="330.6">2- Propanol</text><text x="436.4" y="343.9">Toluene</text><text x="436.4" y="357.6">Formaldehyde</text></g>
<g font-size="19" font-weight="bold" class="nb">
<text x="-1" y="14.0">a</text><text x="345.8" y="14.0">b</text><text x="-0.6" y="315.0">c</text><text x="345.4" y="315.2">d</text>
</g>
</svg></body></html>
